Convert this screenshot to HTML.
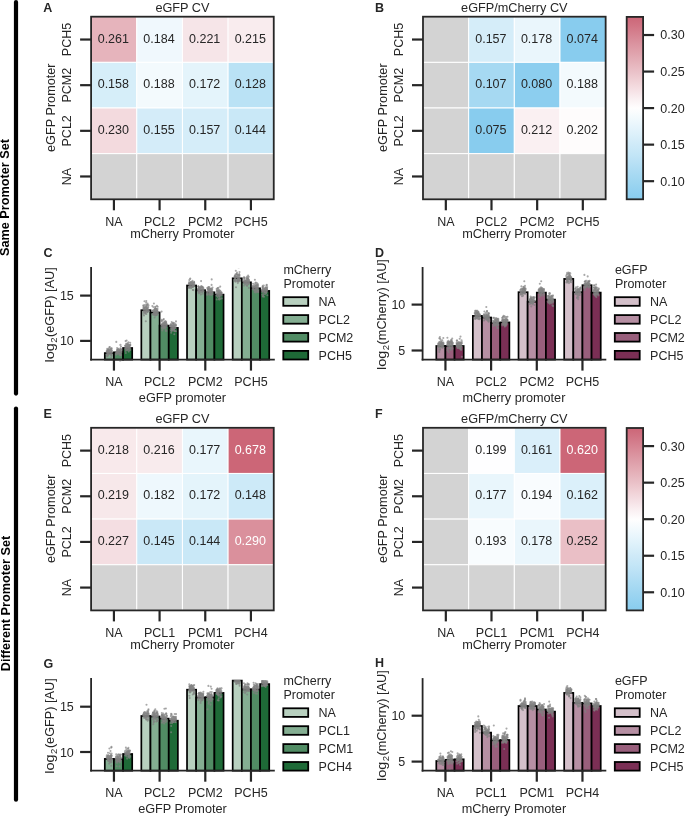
<!DOCTYPE html>
<html><head><meta charset="utf-8"><style>
html,body{margin:0;padding:0;background:#fff;}
body{width:685px;height:816px;overflow:hidden;}
svg{display:block;font-family:"Liberation Sans", sans-serif;will-change:transform;}
</style></head><body>
<svg width="685" height="816" viewBox="0 0 685 816">
<rect x="0" y="0" width="685" height="816" fill="#ffffff"/>
<line x1="16.00" y1="2.10" x2="16.00" y2="393.60" stroke="#000" stroke-width="4.2" stroke-linecap="round"/>
<line x1="16.00" y1="408.60" x2="16.00" y2="799.70" stroke="#000" stroke-width="4.2" stroke-linecap="round"/>
<text x="9.20" y="197.50" text-anchor="middle" font-size="12.7" font-weight="bold" fill="#000" transform="rotate(-90 9.20 197.50)">Same Promoter Set</text>
<text x="9.60" y="603.50" text-anchor="middle" font-size="12.7" font-weight="bold" fill="#000" transform="rotate(-90 9.60 603.50)">Different Promoter Set</text>
<text x="43.30" y="11.80" text-anchor="start" font-size="12.5" font-weight="bold" fill="#262626">A</text>
<text x="375.00" y="11.90" text-anchor="start" font-size="12.5" font-weight="bold" fill="#262626">B</text>
<text x="43.60" y="256.90" text-anchor="start" font-size="12.5" font-weight="bold" fill="#262626">C</text>
<text x="375.00" y="256.50" text-anchor="start" font-size="12.5" font-weight="bold" fill="#262626">D</text>
<text x="43.60" y="418.20" text-anchor="start" font-size="12.5" font-weight="bold" fill="#262626">E</text>
<text x="375.00" y="418.20" text-anchor="start" font-size="12.5" font-weight="bold" fill="#262626">F</text>
<text x="43.60" y="667.70" text-anchor="start" font-size="12.5" font-weight="bold" fill="#262626">G</text>
<text x="375.00" y="667.40" text-anchor="start" font-size="12.5" font-weight="bold" fill="#262626">H</text>
<rect x="91.10" y="16.70" width="182.65" height="182.60" fill="#d3d3d3"/>
<rect x="91.10" y="16.70" width="45.66" height="45.65" fill="#e6b4bc" stroke="#ffffff" stroke-width="1"/>
<rect x="136.76" y="16.70" width="45.66" height="45.65" fill="#f0f8fd" stroke="#ffffff" stroke-width="1"/>
<rect x="182.43" y="16.70" width="45.66" height="45.65" fill="#f6e5e8" stroke="#ffffff" stroke-width="1"/>
<rect x="228.09" y="16.70" width="45.66" height="45.65" fill="#f9ecee" stroke="#ffffff" stroke-width="1"/>
<rect x="91.10" y="62.35" width="45.66" height="45.65" fill="#d6eef9" stroke="#ffffff" stroke-width="1"/>
<rect x="136.76" y="62.35" width="45.66" height="45.65" fill="#f3fafd" stroke="#ffffff" stroke-width="1"/>
<rect x="182.43" y="62.35" width="45.66" height="45.65" fill="#e4f4fb" stroke="#ffffff" stroke-width="1"/>
<rect x="228.09" y="62.35" width="45.66" height="45.65" fill="#bae2f5" stroke="#ffffff" stroke-width="1"/>
<rect x="91.10" y="108.00" width="45.66" height="45.65" fill="#f3dade" stroke="#ffffff" stroke-width="1"/>
<rect x="136.76" y="108.00" width="45.66" height="45.65" fill="#d4ecf9" stroke="#ffffff" stroke-width="1"/>
<rect x="182.43" y="108.00" width="45.66" height="45.65" fill="#d5edf9" stroke="#ffffff" stroke-width="1"/>
<rect x="228.09" y="108.00" width="45.66" height="45.65" fill="#c9e8f7" stroke="#ffffff" stroke-width="1"/>
<rect x="91.10" y="153.65" width="45.66" height="45.65" fill="#d3d3d3" stroke="#ffffff" stroke-width="1"/>
<rect x="136.76" y="153.65" width="45.66" height="45.65" fill="#d3d3d3" stroke="#ffffff" stroke-width="1"/>
<rect x="182.43" y="153.65" width="45.66" height="45.65" fill="#d3d3d3" stroke="#ffffff" stroke-width="1"/>
<rect x="228.09" y="153.65" width="45.66" height="45.65" fill="#d3d3d3" stroke="#ffffff" stroke-width="1"/>
<text x="113.33" y="42.63" text-anchor="middle" font-size="12.5" fill="#262626">0.261</text>
<text x="158.99" y="42.63" text-anchor="middle" font-size="12.5" fill="#262626">0.184</text>
<text x="204.66" y="42.63" text-anchor="middle" font-size="12.5" fill="#262626">0.221</text>
<text x="250.32" y="42.63" text-anchor="middle" font-size="12.5" fill="#262626">0.215</text>
<text x="113.33" y="88.28" text-anchor="middle" font-size="12.5" fill="#262626">0.158</text>
<text x="158.99" y="88.28" text-anchor="middle" font-size="12.5" fill="#262626">0.188</text>
<text x="204.66" y="88.28" text-anchor="middle" font-size="12.5" fill="#262626">0.172</text>
<text x="250.32" y="88.28" text-anchor="middle" font-size="12.5" fill="#262626">0.128</text>
<text x="113.33" y="133.93" text-anchor="middle" font-size="12.5" fill="#262626">0.230</text>
<text x="158.99" y="133.93" text-anchor="middle" font-size="12.5" fill="#262626">0.155</text>
<text x="204.66" y="133.93" text-anchor="middle" font-size="12.5" fill="#262626">0.157</text>
<text x="250.32" y="133.93" text-anchor="middle" font-size="12.5" fill="#262626">0.144</text>
<rect x="91.10" y="16.70" width="182.65" height="182.60" fill="none" stroke="#262626" stroke-width="1.8"/>
<line x1="113.93" y1="199.30" x2="113.93" y2="210.30" stroke="#262626" stroke-width="2.2" stroke-linecap="butt"/>
<text x="113.93" y="225.80" text-anchor="middle" font-size="12.5" fill="#262626">NA</text>
<line x1="159.59" y1="199.30" x2="159.59" y2="210.30" stroke="#262626" stroke-width="2.2" stroke-linecap="butt"/>
<text x="159.59" y="225.80" text-anchor="middle" font-size="12.5" fill="#262626">PCL2</text>
<line x1="205.26" y1="199.30" x2="205.26" y2="210.30" stroke="#262626" stroke-width="2.2" stroke-linecap="butt"/>
<text x="205.26" y="225.80" text-anchor="middle" font-size="12.5" fill="#262626">PCM2</text>
<line x1="250.92" y1="199.30" x2="250.92" y2="210.30" stroke="#262626" stroke-width="2.2" stroke-linecap="butt"/>
<text x="250.92" y="225.80" text-anchor="middle" font-size="12.5" fill="#262626">PCH5</text>
<line x1="80.10" y1="39.53" x2="91.10" y2="39.53" stroke="#262626" stroke-width="2.2" stroke-linecap="butt"/>
<text x="71.40" y="39.53" text-anchor="middle" font-size="12.5" fill="#262626" transform="rotate(-90 71.40 39.53)">PCH5</text>
<line x1="80.10" y1="85.18" x2="91.10" y2="85.18" stroke="#262626" stroke-width="2.2" stroke-linecap="butt"/>
<text x="71.40" y="85.18" text-anchor="middle" font-size="12.5" fill="#262626" transform="rotate(-90 71.40 85.18)">PCM2</text>
<line x1="80.10" y1="130.83" x2="91.10" y2="130.83" stroke="#262626" stroke-width="2.2" stroke-linecap="butt"/>
<text x="71.40" y="130.83" text-anchor="middle" font-size="12.5" fill="#262626" transform="rotate(-90 71.40 130.83)">PCL2</text>
<line x1="80.10" y1="176.48" x2="91.10" y2="176.48" stroke="#262626" stroke-width="2.2" stroke-linecap="butt"/>
<text x="71.40" y="176.48" text-anchor="middle" font-size="12.5" fill="#262626" transform="rotate(-90 71.40 176.48)">NA</text>
<text x="182.43" y="237.50" text-anchor="middle" font-size="12.7" fill="#262626">mCherry Promoter</text>
<text x="55.00" y="107.70" text-anchor="middle" font-size="12.7" fill="#262626" transform="rotate(-90 55.00 107.70)">eGFP Promoter</text>
<text x="182.43" y="11.80" text-anchor="middle" font-size="12.7" fill="#262626">eGFP CV</text>
<rect x="423.00" y="16.70" width="182.65" height="182.60" fill="#d3d3d3"/>
<rect x="423.00" y="16.70" width="45.66" height="45.65" fill="#d3d3d3" stroke="#ffffff" stroke-width="1"/>
<rect x="468.66" y="16.70" width="45.66" height="45.65" fill="#d5edf9" stroke="#ffffff" stroke-width="1"/>
<rect x="514.33" y="16.70" width="45.66" height="45.65" fill="#eaf6fc" stroke="#ffffff" stroke-width="1"/>
<rect x="559.99" y="16.70" width="45.66" height="45.65" fill="#88ccee" stroke="#ffffff" stroke-width="1"/>
<rect x="423.00" y="62.35" width="45.66" height="45.65" fill="#d3d3d3" stroke="#ffffff" stroke-width="1"/>
<rect x="468.66" y="62.35" width="45.66" height="45.65" fill="#a6d9f2" stroke="#ffffff" stroke-width="1"/>
<rect x="514.33" y="62.35" width="45.66" height="45.65" fill="#8cceef" stroke="#ffffff" stroke-width="1"/>
<rect x="559.99" y="62.35" width="45.66" height="45.65" fill="#f3fafd" stroke="#ffffff" stroke-width="1"/>
<rect x="423.00" y="108.00" width="45.66" height="45.65" fill="#d3d3d3" stroke="#ffffff" stroke-width="1"/>
<rect x="468.66" y="108.00" width="45.66" height="45.65" fill="#88ccee" stroke="#ffffff" stroke-width="1"/>
<rect x="514.33" y="108.00" width="45.66" height="45.65" fill="#faf0f2" stroke="#ffffff" stroke-width="1"/>
<rect x="559.99" y="108.00" width="45.66" height="45.65" fill="#fefcfc" stroke="#ffffff" stroke-width="1"/>
<rect x="423.00" y="153.65" width="45.66" height="45.65" fill="#d3d3d3" stroke="#ffffff" stroke-width="1"/>
<rect x="468.66" y="153.65" width="45.66" height="45.65" fill="#d3d3d3" stroke="#ffffff" stroke-width="1"/>
<rect x="514.33" y="153.65" width="45.66" height="45.65" fill="#d3d3d3" stroke="#ffffff" stroke-width="1"/>
<rect x="559.99" y="153.65" width="45.66" height="45.65" fill="#d3d3d3" stroke="#ffffff" stroke-width="1"/>
<text x="490.89" y="42.63" text-anchor="middle" font-size="12.5" fill="#262626">0.157</text>
<text x="536.56" y="42.63" text-anchor="middle" font-size="12.5" fill="#262626">0.178</text>
<text x="582.22" y="42.63" text-anchor="middle" font-size="12.5" fill="#262626">0.074</text>
<text x="490.89" y="88.28" text-anchor="middle" font-size="12.5" fill="#262626">0.107</text>
<text x="536.56" y="88.28" text-anchor="middle" font-size="12.5" fill="#262626">0.080</text>
<text x="582.22" y="88.28" text-anchor="middle" font-size="12.5" fill="#262626">0.188</text>
<text x="490.89" y="133.93" text-anchor="middle" font-size="12.5" fill="#262626">0.075</text>
<text x="536.56" y="133.93" text-anchor="middle" font-size="12.5" fill="#262626">0.212</text>
<text x="582.22" y="133.93" text-anchor="middle" font-size="12.5" fill="#262626">0.202</text>
<rect x="423.00" y="16.70" width="182.65" height="182.60" fill="none" stroke="#262626" stroke-width="1.8"/>
<line x1="445.83" y1="199.30" x2="445.83" y2="210.30" stroke="#262626" stroke-width="2.2" stroke-linecap="butt"/>
<text x="445.83" y="225.80" text-anchor="middle" font-size="12.5" fill="#262626">NA</text>
<line x1="491.49" y1="199.30" x2="491.49" y2="210.30" stroke="#262626" stroke-width="2.2" stroke-linecap="butt"/>
<text x="491.49" y="225.80" text-anchor="middle" font-size="12.5" fill="#262626">PCL2</text>
<line x1="537.16" y1="199.30" x2="537.16" y2="210.30" stroke="#262626" stroke-width="2.2" stroke-linecap="butt"/>
<text x="537.16" y="225.80" text-anchor="middle" font-size="12.5" fill="#262626">PCM2</text>
<line x1="582.82" y1="199.30" x2="582.82" y2="210.30" stroke="#262626" stroke-width="2.2" stroke-linecap="butt"/>
<text x="582.82" y="225.80" text-anchor="middle" font-size="12.5" fill="#262626">PCH5</text>
<line x1="412.00" y1="39.53" x2="423.00" y2="39.53" stroke="#262626" stroke-width="2.2" stroke-linecap="butt"/>
<text x="403.30" y="39.53" text-anchor="middle" font-size="12.5" fill="#262626" transform="rotate(-90 403.30 39.53)">PCH5</text>
<line x1="412.00" y1="85.18" x2="423.00" y2="85.18" stroke="#262626" stroke-width="2.2" stroke-linecap="butt"/>
<text x="403.30" y="85.18" text-anchor="middle" font-size="12.5" fill="#262626" transform="rotate(-90 403.30 85.18)">PCM2</text>
<line x1="412.00" y1="130.83" x2="423.00" y2="130.83" stroke="#262626" stroke-width="2.2" stroke-linecap="butt"/>
<text x="403.30" y="130.83" text-anchor="middle" font-size="12.5" fill="#262626" transform="rotate(-90 403.30 130.83)">PCL2</text>
<line x1="412.00" y1="176.48" x2="423.00" y2="176.48" stroke="#262626" stroke-width="2.2" stroke-linecap="butt"/>
<text x="403.30" y="176.48" text-anchor="middle" font-size="12.5" fill="#262626" transform="rotate(-90 403.30 176.48)">NA</text>
<text x="514.33" y="237.50" text-anchor="middle" font-size="12.7" fill="#262626">mCherry Promoter</text>
<text x="386.90" y="107.70" text-anchor="middle" font-size="12.7" fill="#262626" transform="rotate(-90 386.90 107.70)">eGFP Promoter</text>
<text x="514.33" y="11.80" text-anchor="middle" font-size="12.7" fill="#262626">eGFP/mCherry CV</text>
<defs><linearGradient id="cb0" x1="0" y1="0" x2="0" y2="1"><stop offset="0.000" stop-color="#cc6677"/><stop offset="0.050" stop-color="#d17484"/><stop offset="0.100" stop-color="#d68492"/><stop offset="0.150" stop-color="#db94a0"/><stop offset="0.200" stop-color="#e0a3ad"/><stop offset="0.250" stop-color="#e5b2ba"/><stop offset="0.300" stop-color="#eac1c8"/><stop offset="0.350" stop-color="#f0d1d6"/><stop offset="0.400" stop-color="#f5e0e4"/><stop offset="0.450" stop-color="#faf0f2"/><stop offset="0.500" stop-color="#fffefe"/><stop offset="0.550" stop-color="#f3fafd"/><stop offset="0.600" stop-color="#e7f5fc"/><stop offset="0.650" stop-color="#dbf0fa"/><stop offset="0.700" stop-color="#cfeaf8"/><stop offset="0.750" stop-color="#c4e6f7"/><stop offset="0.800" stop-color="#b8e0f5"/><stop offset="0.850" stop-color="#abdbf3"/><stop offset="0.900" stop-color="#9fd6f1"/><stop offset="0.950" stop-color="#93d1f0"/><stop offset="1.000" stop-color="#88ccee"/></linearGradient></defs>
<rect x="626.70" y="16.90" width="16.40" height="182.40" fill="url(#cb0)" stroke="#262626" stroke-width="1.8"/>
<line x1="643.10" y1="181.18" x2="654.10" y2="181.18" stroke="#262626" stroke-width="2.2" stroke-linecap="butt"/>
<text x="660.30" y="185.58" text-anchor="start" font-size="12.5" fill="#262626">0.10</text>
<line x1="643.10" y1="144.64" x2="654.10" y2="144.64" stroke="#262626" stroke-width="2.2" stroke-linecap="butt"/>
<text x="660.30" y="149.04" text-anchor="start" font-size="12.5" fill="#262626">0.15</text>
<line x1="643.10" y1="108.10" x2="654.10" y2="108.10" stroke="#262626" stroke-width="2.2" stroke-linecap="butt"/>
<text x="660.30" y="112.50" text-anchor="start" font-size="12.5" fill="#262626">0.20</text>
<line x1="643.10" y1="71.56" x2="654.10" y2="71.56" stroke="#262626" stroke-width="2.2" stroke-linecap="butt"/>
<text x="660.30" y="75.96" text-anchor="start" font-size="12.5" fill="#262626">0.25</text>
<line x1="643.10" y1="35.02" x2="654.10" y2="35.02" stroke="#262626" stroke-width="2.2" stroke-linecap="butt"/>
<text x="660.30" y="39.42" text-anchor="start" font-size="12.5" fill="#262626">0.30</text>
<rect x="91.10" y="427.80" width="182.65" height="182.60" fill="#d3d3d3"/>
<rect x="91.10" y="427.80" width="45.66" height="45.65" fill="#f8e9eb" stroke="#ffffff" stroke-width="1"/>
<rect x="136.76" y="427.80" width="45.66" height="45.65" fill="#f8ebed" stroke="#ffffff" stroke-width="1"/>
<rect x="182.43" y="427.80" width="45.66" height="45.65" fill="#e9f6fc" stroke="#ffffff" stroke-width="1"/>
<rect x="228.09" y="427.80" width="45.66" height="45.65" fill="#cc6677" stroke="#ffffff" stroke-width="1"/>
<rect x="91.10" y="473.45" width="45.66" height="45.65" fill="#f7e8ea" stroke="#ffffff" stroke-width="1"/>
<rect x="136.76" y="473.45" width="45.66" height="45.65" fill="#eef8fd" stroke="#ffffff" stroke-width="1"/>
<rect x="182.43" y="473.45" width="45.66" height="45.65" fill="#e4f4fb" stroke="#ffffff" stroke-width="1"/>
<rect x="228.09" y="473.45" width="45.66" height="45.65" fill="#cdeaf8" stroke="#ffffff" stroke-width="1"/>
<rect x="91.10" y="519.10" width="45.66" height="45.65" fill="#f4dee2" stroke="#ffffff" stroke-width="1"/>
<rect x="136.76" y="519.10" width="45.66" height="45.65" fill="#cae8f7" stroke="#ffffff" stroke-width="1"/>
<rect x="182.43" y="519.10" width="45.66" height="45.65" fill="#c9e8f7" stroke="#ffffff" stroke-width="1"/>
<rect x="228.09" y="519.10" width="45.66" height="45.65" fill="#da909c" stroke="#ffffff" stroke-width="1"/>
<rect x="91.10" y="564.75" width="45.66" height="45.65" fill="#d3d3d3" stroke="#ffffff" stroke-width="1"/>
<rect x="136.76" y="564.75" width="45.66" height="45.65" fill="#d3d3d3" stroke="#ffffff" stroke-width="1"/>
<rect x="182.43" y="564.75" width="45.66" height="45.65" fill="#d3d3d3" stroke="#ffffff" stroke-width="1"/>
<rect x="228.09" y="564.75" width="45.66" height="45.65" fill="#d3d3d3" stroke="#ffffff" stroke-width="1"/>
<text x="113.33" y="453.73" text-anchor="middle" font-size="12.5" fill="#262626">0.218</text>
<text x="158.99" y="453.73" text-anchor="middle" font-size="12.5" fill="#262626">0.216</text>
<text x="204.66" y="453.73" text-anchor="middle" font-size="12.5" fill="#262626">0.177</text>
<text x="250.32" y="453.73" text-anchor="middle" font-size="12.5" fill="#ffffff">0.678</text>
<text x="113.33" y="499.38" text-anchor="middle" font-size="12.5" fill="#262626">0.219</text>
<text x="158.99" y="499.38" text-anchor="middle" font-size="12.5" fill="#262626">0.182</text>
<text x="204.66" y="499.38" text-anchor="middle" font-size="12.5" fill="#262626">0.172</text>
<text x="250.32" y="499.38" text-anchor="middle" font-size="12.5" fill="#262626">0.148</text>
<text x="113.33" y="545.03" text-anchor="middle" font-size="12.5" fill="#262626">0.227</text>
<text x="158.99" y="545.03" text-anchor="middle" font-size="12.5" fill="#262626">0.145</text>
<text x="204.66" y="545.03" text-anchor="middle" font-size="12.5" fill="#262626">0.144</text>
<text x="250.32" y="545.03" text-anchor="middle" font-size="12.5" fill="#ffffff">0.290</text>
<rect x="91.10" y="427.80" width="182.65" height="182.60" fill="none" stroke="#262626" stroke-width="1.8"/>
<line x1="113.93" y1="610.40" x2="113.93" y2="621.40" stroke="#262626" stroke-width="2.2" stroke-linecap="butt"/>
<text x="113.93" y="636.90" text-anchor="middle" font-size="12.5" fill="#262626">NA</text>
<line x1="159.59" y1="610.40" x2="159.59" y2="621.40" stroke="#262626" stroke-width="2.2" stroke-linecap="butt"/>
<text x="159.59" y="636.90" text-anchor="middle" font-size="12.5" fill="#262626">PCL1</text>
<line x1="205.26" y1="610.40" x2="205.26" y2="621.40" stroke="#262626" stroke-width="2.2" stroke-linecap="butt"/>
<text x="205.26" y="636.90" text-anchor="middle" font-size="12.5" fill="#262626">PCM1</text>
<line x1="250.92" y1="610.40" x2="250.92" y2="621.40" stroke="#262626" stroke-width="2.2" stroke-linecap="butt"/>
<text x="250.92" y="636.90" text-anchor="middle" font-size="12.5" fill="#262626">PCH4</text>
<line x1="80.10" y1="450.62" x2="91.10" y2="450.62" stroke="#262626" stroke-width="2.2" stroke-linecap="butt"/>
<text x="71.40" y="450.62" text-anchor="middle" font-size="12.5" fill="#262626" transform="rotate(-90 71.40 450.62)">PCH5</text>
<line x1="80.10" y1="496.28" x2="91.10" y2="496.28" stroke="#262626" stroke-width="2.2" stroke-linecap="butt"/>
<text x="71.40" y="496.28" text-anchor="middle" font-size="12.5" fill="#262626" transform="rotate(-90 71.40 496.28)">PCM2</text>
<line x1="80.10" y1="541.93" x2="91.10" y2="541.93" stroke="#262626" stroke-width="2.2" stroke-linecap="butt"/>
<text x="71.40" y="541.93" text-anchor="middle" font-size="12.5" fill="#262626" transform="rotate(-90 71.40 541.93)">PCL2</text>
<line x1="80.10" y1="587.58" x2="91.10" y2="587.58" stroke="#262626" stroke-width="2.2" stroke-linecap="butt"/>
<text x="71.40" y="587.58" text-anchor="middle" font-size="12.5" fill="#262626" transform="rotate(-90 71.40 587.58)">NA</text>
<text x="182.43" y="648.60" text-anchor="middle" font-size="12.7" fill="#262626">mCherry Promoter</text>
<text x="55.00" y="518.80" text-anchor="middle" font-size="12.7" fill="#262626" transform="rotate(-90 55.00 518.80)">eGFP Promoter</text>
<text x="182.43" y="422.90" text-anchor="middle" font-size="12.7" fill="#262626">eGFP CV</text>
<rect x="423.00" y="427.80" width="182.65" height="182.60" fill="#d3d3d3"/>
<rect x="423.00" y="427.80" width="45.66" height="45.65" fill="#d3d3d3" stroke="#ffffff" stroke-width="1"/>
<rect x="468.66" y="427.80" width="45.66" height="45.65" fill="#fefeff" stroke="#ffffff" stroke-width="1"/>
<rect x="514.33" y="427.80" width="45.66" height="45.65" fill="#daeffa" stroke="#ffffff" stroke-width="1"/>
<rect x="559.99" y="427.80" width="45.66" height="45.65" fill="#cc6677" stroke="#ffffff" stroke-width="1"/>
<rect x="423.00" y="473.45" width="45.66" height="45.65" fill="#d3d3d3" stroke="#ffffff" stroke-width="1"/>
<rect x="468.66" y="473.45" width="45.66" height="45.65" fill="#e9f6fc" stroke="#ffffff" stroke-width="1"/>
<rect x="514.33" y="473.45" width="45.66" height="45.65" fill="#f9fcfe" stroke="#ffffff" stroke-width="1"/>
<rect x="559.99" y="473.45" width="45.66" height="45.65" fill="#dbf0fa" stroke="#ffffff" stroke-width="1"/>
<rect x="423.00" y="519.10" width="45.66" height="45.65" fill="#d3d3d3" stroke="#ffffff" stroke-width="1"/>
<rect x="468.66" y="519.10" width="45.66" height="45.65" fill="#f8fcfe" stroke="#ffffff" stroke-width="1"/>
<rect x="514.33" y="519.10" width="45.66" height="45.65" fill="#eaf6fc" stroke="#ffffff" stroke-width="1"/>
<rect x="559.99" y="519.10" width="45.66" height="45.65" fill="#eabfc6" stroke="#ffffff" stroke-width="1"/>
<rect x="423.00" y="564.75" width="45.66" height="45.65" fill="#d3d3d3" stroke="#ffffff" stroke-width="1"/>
<rect x="468.66" y="564.75" width="45.66" height="45.65" fill="#d3d3d3" stroke="#ffffff" stroke-width="1"/>
<rect x="514.33" y="564.75" width="45.66" height="45.65" fill="#d3d3d3" stroke="#ffffff" stroke-width="1"/>
<rect x="559.99" y="564.75" width="45.66" height="45.65" fill="#d3d3d3" stroke="#ffffff" stroke-width="1"/>
<text x="490.89" y="453.73" text-anchor="middle" font-size="12.5" fill="#262626">0.199</text>
<text x="536.56" y="453.73" text-anchor="middle" font-size="12.5" fill="#262626">0.161</text>
<text x="582.22" y="453.73" text-anchor="middle" font-size="12.5" fill="#ffffff">0.620</text>
<text x="490.89" y="499.38" text-anchor="middle" font-size="12.5" fill="#262626">0.177</text>
<text x="536.56" y="499.38" text-anchor="middle" font-size="12.5" fill="#262626">0.194</text>
<text x="582.22" y="499.38" text-anchor="middle" font-size="12.5" fill="#262626">0.162</text>
<text x="490.89" y="545.03" text-anchor="middle" font-size="12.5" fill="#262626">0.193</text>
<text x="536.56" y="545.03" text-anchor="middle" font-size="12.5" fill="#262626">0.178</text>
<text x="582.22" y="545.03" text-anchor="middle" font-size="12.5" fill="#262626">0.252</text>
<rect x="423.00" y="427.80" width="182.65" height="182.60" fill="none" stroke="#262626" stroke-width="1.8"/>
<line x1="445.83" y1="610.40" x2="445.83" y2="621.40" stroke="#262626" stroke-width="2.2" stroke-linecap="butt"/>
<text x="445.83" y="636.90" text-anchor="middle" font-size="12.5" fill="#262626">NA</text>
<line x1="491.49" y1="610.40" x2="491.49" y2="621.40" stroke="#262626" stroke-width="2.2" stroke-linecap="butt"/>
<text x="491.49" y="636.90" text-anchor="middle" font-size="12.5" fill="#262626">PCL1</text>
<line x1="537.16" y1="610.40" x2="537.16" y2="621.40" stroke="#262626" stroke-width="2.2" stroke-linecap="butt"/>
<text x="537.16" y="636.90" text-anchor="middle" font-size="12.5" fill="#262626">PCM1</text>
<line x1="582.82" y1="610.40" x2="582.82" y2="621.40" stroke="#262626" stroke-width="2.2" stroke-linecap="butt"/>
<text x="582.82" y="636.90" text-anchor="middle" font-size="12.5" fill="#262626">PCH4</text>
<line x1="412.00" y1="450.62" x2="423.00" y2="450.62" stroke="#262626" stroke-width="2.2" stroke-linecap="butt"/>
<text x="403.30" y="450.62" text-anchor="middle" font-size="12.5" fill="#262626" transform="rotate(-90 403.30 450.62)">PCH5</text>
<line x1="412.00" y1="496.28" x2="423.00" y2="496.28" stroke="#262626" stroke-width="2.2" stroke-linecap="butt"/>
<text x="403.30" y="496.28" text-anchor="middle" font-size="12.5" fill="#262626" transform="rotate(-90 403.30 496.28)">PCM2</text>
<line x1="412.00" y1="541.93" x2="423.00" y2="541.93" stroke="#262626" stroke-width="2.2" stroke-linecap="butt"/>
<text x="403.30" y="541.93" text-anchor="middle" font-size="12.5" fill="#262626" transform="rotate(-90 403.30 541.93)">PCL2</text>
<line x1="412.00" y1="587.58" x2="423.00" y2="587.58" stroke="#262626" stroke-width="2.2" stroke-linecap="butt"/>
<text x="403.30" y="587.58" text-anchor="middle" font-size="12.5" fill="#262626" transform="rotate(-90 403.30 587.58)">NA</text>
<text x="514.33" y="648.60" text-anchor="middle" font-size="12.7" fill="#262626">mCherry Promoter</text>
<text x="386.90" y="518.80" text-anchor="middle" font-size="12.7" fill="#262626" transform="rotate(-90 386.90 518.80)">eGFP Promoter</text>
<text x="514.33" y="422.90" text-anchor="middle" font-size="12.7" fill="#262626">eGFP/mCherry CV</text>
<defs><linearGradient id="cb411" x1="0" y1="0" x2="0" y2="1"><stop offset="0.000" stop-color="#cc6677"/><stop offset="0.050" stop-color="#d17484"/><stop offset="0.100" stop-color="#d68492"/><stop offset="0.150" stop-color="#db94a0"/><stop offset="0.200" stop-color="#e0a3ad"/><stop offset="0.250" stop-color="#e5b2ba"/><stop offset="0.300" stop-color="#eac1c8"/><stop offset="0.350" stop-color="#f0d1d6"/><stop offset="0.400" stop-color="#f5e0e4"/><stop offset="0.450" stop-color="#faf0f2"/><stop offset="0.500" stop-color="#fffefe"/><stop offset="0.550" stop-color="#f3fafd"/><stop offset="0.600" stop-color="#e7f5fc"/><stop offset="0.650" stop-color="#dbf0fa"/><stop offset="0.700" stop-color="#cfeaf8"/><stop offset="0.750" stop-color="#c4e6f7"/><stop offset="0.800" stop-color="#b8e0f5"/><stop offset="0.850" stop-color="#abdbf3"/><stop offset="0.900" stop-color="#9fd6f1"/><stop offset="0.950" stop-color="#93d1f0"/><stop offset="1.000" stop-color="#88ccee"/></linearGradient></defs>
<rect x="626.70" y="428.00" width="16.40" height="182.40" fill="url(#cb411)" stroke="#262626" stroke-width="1.8"/>
<line x1="643.10" y1="592.28" x2="654.10" y2="592.28" stroke="#262626" stroke-width="2.2" stroke-linecap="butt"/>
<text x="660.30" y="596.68" text-anchor="start" font-size="12.5" fill="#262626">0.10</text>
<line x1="643.10" y1="555.74" x2="654.10" y2="555.74" stroke="#262626" stroke-width="2.2" stroke-linecap="butt"/>
<text x="660.30" y="560.14" text-anchor="start" font-size="12.5" fill="#262626">0.15</text>
<line x1="643.10" y1="519.20" x2="654.10" y2="519.20" stroke="#262626" stroke-width="2.2" stroke-linecap="butt"/>
<text x="660.30" y="523.60" text-anchor="start" font-size="12.5" fill="#262626">0.20</text>
<line x1="643.10" y1="482.66" x2="654.10" y2="482.66" stroke="#262626" stroke-width="2.2" stroke-linecap="butt"/>
<text x="660.30" y="487.06" text-anchor="start" font-size="12.5" fill="#262626">0.25</text>
<line x1="643.10" y1="446.12" x2="654.10" y2="446.12" stroke="#262626" stroke-width="2.2" stroke-linecap="butt"/>
<text x="660.30" y="450.52" text-anchor="start" font-size="12.5" fill="#262626">0.30</text>
<rect x="104.80" y="353.10" width="9.13" height="6.50" fill="#84ae92" stroke="#000" stroke-width="1.7"/>
<rect x="113.94" y="352.30" width="9.13" height="7.30" fill="#518c64" stroke="#000" stroke-width="1.7"/>
<rect x="123.07" y="348.00" width="9.13" height="11.60" fill="#1e6a37" stroke="#000" stroke-width="1.7"/>
<rect x="141.34" y="310.20" width="9.13" height="49.40" fill="#b8d0bf" stroke="#000" stroke-width="1.7"/>
<rect x="150.48" y="312.50" width="9.13" height="47.10" fill="#84ae92" stroke="#000" stroke-width="1.7"/>
<rect x="159.61" y="325.60" width="9.13" height="34.00" fill="#518c64" stroke="#000" stroke-width="1.7"/>
<rect x="168.75" y="327.90" width="9.13" height="31.70" fill="#1e6a37" stroke="#000" stroke-width="1.7"/>
<rect x="187.02" y="285.50" width="9.13" height="74.10" fill="#b8d0bf" stroke="#000" stroke-width="1.7"/>
<rect x="196.15" y="290.20" width="9.13" height="69.40" fill="#84ae92" stroke="#000" stroke-width="1.7"/>
<rect x="205.29" y="292.30" width="9.13" height="67.30" fill="#518c64" stroke="#000" stroke-width="1.7"/>
<rect x="214.42" y="294.60" width="9.13" height="65.00" fill="#1e6a37" stroke="#000" stroke-width="1.7"/>
<rect x="232.69" y="278.30" width="9.13" height="81.30" fill="#b8d0bf" stroke="#000" stroke-width="1.7"/>
<rect x="241.83" y="282.30" width="9.13" height="77.30" fill="#84ae92" stroke="#000" stroke-width="1.7"/>
<rect x="250.96" y="288.30" width="9.13" height="71.30" fill="#518c64" stroke="#000" stroke-width="1.7"/>
<rect x="260.10" y="290.90" width="9.13" height="68.70" fill="#1e6a37" stroke="#000" stroke-width="1.7"/>
<defs><clipPath id="clip1"><rect x="91.10" y="268.80" width="183.70" height="92.60"/></clipPath></defs>
<g clip-path="url(#clip1)">
<path d="M246.5 280.8h0M120.3 352.5h0M107.5 354.9h0M266.2 293.1h0M255.8 287.5h0M192.1 284.7h0M262.7 287.5h0M262.7 289.1h0M145.0 311.7h0M190.1 283.0h0M236.0 287.3h0M162.8 328.6h0M257.9 291.9h0M125.5 345.2h0M247.5 279.6h0M117.6 353.3h0M120.3 355.1h0M209.5 287.2h0M262.3 294.7h0M171.2 324.1h0M165.8 330.0h0M219.9 293.1h0M108.0 349.8h0M256.6 289.2h0M256.8 283.4h0M145.4 308.4h0M193.3 290.1h0M221.2 292.5h0M202.6 291.6h0M161.8 324.9h0M219.3 292.8h0M188.9 283.6h0M126.9 349.7h0M127.1 343.9h0M217.7 291.5h0M106.9 355.0h0M143.5 305.8h0M256.1 288.7h0M237.9 278.1h0M153.1 313.8h0M157.6 312.5h0M121.2 352.2h0M147.8 309.0h0M166.3 324.0h0M191.4 282.6h0M145.6 306.5h0M264.3 292.0h0M157.6 312.1h0M210.2 294.7h0M108.5 351.8h0M265.3 290.4h0M237.4 277.0h0M173.7 328.8h0M244.6 280.3h0M145.0 312.0h0M146.0 309.5h0M176.0 331.3h0M211.7 279.4h0M171.1 326.1h0M127.8 343.4h0M263.1 296.1h0M116.4 352.9h0M219.0 293.8h0M211.6 284.9h0M257.8 290.3h0M256.1 287.3h0M173.6 328.7h0M153.4 307.0h0M126.3 348.4h0M164.4 324.1h0M157.2 309.0h0M117.4 352.7h0M200.4 289.0h0M118.9 351.3h0M199.1 290.3h0M234.6 276.8h0M209.5 294.6h0M201.5 287.6h0M244.6 277.6h0M119.5 353.1h0M266.6 287.9h0M173.1 328.9h0M152.8 314.4h0M236.3 280.6h0M210.2 290.0h0M235.3 276.5h0M221.1 294.5h0M247.6 279.1h0M239.2 274.3h0M211.7 294.8h0M253.6 289.7h0M192.9 285.2h0M220.7 293.0h0M257.7 284.1h0M248.1 279.2h0M154.8 309.7h0M192.2 283.0h0M120.6 352.2h0M267.0 289.4h0M157.2 314.2h0M237.3 276.4h0M109.8 347.0h0M209.5 288.3h0M199.3 291.5h0M155.3 311.3h0M157.8 314.2h0M118.0 351.3h0M111.1 350.0h0M173.0 323.7h0M121.2 349.3h0M117.2 353.9h0M148.6 310.5h0M262.0 290.7h0M188.9 287.3h0M192.7 286.6h0M219.6 297.4h0M202.7 289.8h0M126.1 348.5h0M154.8 311.7h0M220.6 293.7h0M221.6 292.6h0M109.3 350.4h0M264.0 296.8h0M111.3 349.4h0M218.2 294.7h0M209.2 288.8h0M266.2 293.0h0M262.0 289.6h0M211.2 289.6h0M237.8 275.4h0M217.5 288.6h0M235.4 277.7h0M243.9 281.7h0M118.6 351.6h0M165.2 322.7h0M266.7 290.4h0M212.5 292.5h0M152.4 306.1h0M216.9 290.9h0M266.5 288.9h0M144.1 311.3h0M156.9 311.0h0M257.2 283.3h0M153.8 314.8h0M246.9 281.7h0M111.8 352.5h0M157.6 309.1h0M116.0 354.3h0M253.1 286.6h0M208.1 288.9h0M248.7 279.9h0M218.4 292.1h0M107.9 352.6h0M146.3 308.8h0M221.6 294.8h0M128.3 347.9h0M193.5 285.3h0M266.3 289.8h0M239.2 275.4h0M117.5 349.9h0M267.3 295.2h0M170.9 325.2h0M262.3 291.9h0M107.8 353.6h0M264.6 289.0h0M198.3 289.7h0M192.6 286.0h0M110.3 353.2h0M207.6 292.5h0M175.8 328.0h0M210.2 289.4h0M210.7 290.8h0M190.6 285.0h0M194.1 281.9h0M116.3 341.9h0M234.5 280.0h0M263.5 290.3h0M189.4 285.6h0M165.8 326.3h0M207.4 291.9h0M221.2 293.0h0M216.8 299.4h0M202.3 287.9h0M163.5 326.8h0M239.9 281.1h0M198.8 292.5h0M174.2 329.9h0M129.5 345.5h0M120.1 349.7h0M147.6 303.6h0M199.0 287.6h0M127.3 347.0h0M147.2 311.9h0M237.6 280.4h0M144.9 305.0h0M126.2 350.0h0M172.9 325.2h0M107.7 355.9h0M207.4 293.5h0M155.4 308.8h0M201.5 289.5h0M236.9 279.7h0M190.0 285.1h0M192.2 283.6h0M235.9 279.9h0M162.9 325.8h0M265.6 287.9h0M163.3 328.4h0M120.7 350.4h0M111.0 358.0h0M244.9 281.2h0M245.7 281.2h0M118.9 352.8h0M171.0 325.6h0M190.4 285.4h0M237.4 276.7h0M171.3 324.2h0M210.7 292.3h0M243.9 282.6h0M156.9 305.9h0M236.6 274.1h0M111.4 350.6h0M198.9 288.3h0M190.3 278.5h0M155.0 314.4h0M166.4 323.9h0M162.3 328.6h0M192.1 284.3h0M253.1 289.3h0M146.3 314.0h0M147.5 309.2h0M106.9 351.2h0M254.2 286.5h0M252.9 286.1h0M211.6 290.3h0M262.4 292.5h0M156.0 315.2h0M146.9 310.4h0M220.7 294.9h0M157.2 314.5h0M249.0 283.4h0M128.8 346.6h0M248.8 284.1h0M171.1 328.8h0M127.0 350.1h0M164.4 326.8h0M107.9 349.8h0M265.6 287.3h0M172.9 328.5h0M109.4 353.7h0M143.5 311.8h0M192.0 281.9h0M209.3 290.6h0M120.8 351.5h0M125.6 341.1h0M163.4 325.4h0M107.6 351.1h0M173.0 329.4h0M118.5 352.8h0M248.8 281.9h0M129.5 346.8h0M111.2 352.4h0M245.9 281.2h0" stroke="#808080" stroke-opacity="0.68" stroke-width="2.1" stroke-linecap="round" fill="none"/>
<path d="M107.8 350.8h0M218.3 291.2h0M266.5 292.2h0M265.7 293.4h0M239.3 275.3h0M129.3 348.6h0M144.1 308.9h0M246.4 284.9h0M262.6 287.1h0M262.1 290.3h0M201.0 294.3h0M174.1 329.0h0M146.0 307.5h0M106.7 354.2h0M266.3 288.9h0M192.9 286.5h0M218.9 292.2h0M165.7 327.8h0M244.8 284.2h0M203.4 288.2h0M221.7 298.4h0M189.1 288.0h0M202.3 291.7h0M216.4 295.4h0M128.7 344.9h0M193.6 282.5h0M198.1 291.2h0M153.0 314.3h0M263.6 293.7h0M263.5 294.8h0M257.6 291.3h0M217.7 292.9h0M266.5 289.8h0M200.2 287.6h0M117.2 349.9h0M146.3 301.1h0M257.9 290.8h0M221.6 295.6h0M117.4 352.9h0M156.5 311.2h0M263.8 293.7h0M199.2 289.2h0M208.4 291.4h0M120.1 353.9h0M248.9 281.4h0M165.8 324.7h0M245.3 282.4h0M126.6 340.5h0M171.3 330.2h0M254.9 286.8h0M127.8 349.3h0M165.2 328.4h0M238.9 280.1h0M218.9 298.9h0M120.5 344.8h0M257.0 285.9h0M244.7 281.7h0M155.5 308.9h0M163.5 325.6h0M165.2 321.8h0M154.4 310.7h0M128.3 346.9h0M124.9 348.0h0M109.4 347.4h0M198.2 291.5h0M199.3 290.7h0M201.6 286.2h0M156.3 310.2h0M243.7 282.1h0M145.1 310.6h0M147.1 308.5h0M266.0 288.8h0M174.9 331.2h0M198.0 288.5h0M165.7 325.4h0M257.6 287.4h0M129.1 347.2h0M154.6 317.5h0M146.4 311.0h0M239.5 279.0h0M200.8 294.6h0M237.9 281.5h0M258.2 291.9h0M246.6 283.4h0M199.8 290.7h0M121.0 352.1h0M218.6 289.8h0M256.0 287.1h0M209.9 290.3h0M161.6 320.5h0M208.3 287.2h0M207.3 294.9h0M220.8 292.1h0M202.8 287.5h0M245.4 281.4h0M172.8 328.8h0M211.4 291.4h0M262.8 286.5h0M190.5 282.1h0M255.3 290.6h0M246.9 281.9h0M161.9 326.1h0M148.3 307.1h0M208.8 291.4h0M145.8 321.3h0M238.9 277.8h0M154.4 313.5h0M175.6 325.7h0M221.6 294.6h0M128.4 344.5h0M120.8 350.6h0M256.1 285.4h0M247.4 281.0h0M127.3 346.3h0M161.5 319.9h0M129.2 349.1h0M120.1 353.4h0M264.3 291.4h0M255.8 282.5h0M164.9 326.9h0M118.9 349.5h0M145.5 313.5h0M193.6 285.9h0M209.1 290.6h0M246.4 283.1h0M208.1 288.3h0M220.1 295.8h0M235.7 276.7h0M162.0 326.3h0M212.5 294.3h0M147.8 309.5h0M118.1 350.0h0M154.3 309.9h0M126.4 347.0h0M130.2 345.2h0M198.4 288.5h0M235.7 275.5h0M120.3 345.0h0M146.6 310.0h0M253.2 288.1h0M193.6 285.5h0M170.8 325.9h0M244.1 279.0h0M255.1 287.0h0M244.1 285.6h0M161.7 326.2h0M212.3 294.0h0M267.2 287.1h0M162.9 324.1h0M253.0 287.7h0M190.6 282.6h0M120.7 355.3h0M199.3 290.7h0M144.0 315.4h0M153.7 311.7h0M147.6 304.8h0M219.6 293.2h0M216.6 289.1h0M118.4 352.3h0M211.4 294.4h0M130.2 348.7h0M117.8 351.0h0M107.5 353.0h0M190.5 286.8h0M263.6 288.6h0M162.9 326.6h0M111.5 354.9h0M236.2 274.2h0M147.6 312.1h0M111.2 351.2h0M155.5 313.2h0M218.8 293.0h0M155.1 311.5h0M173.1 328.0h0M256.3 287.0h0M265.5 290.4h0M157.0 312.2h0M234.9 277.6h0M163.8 319.1h0M265.2 294.1h0M109.9 352.0h0M210.1 292.0h0M211.4 289.4h0M172.7 326.3h0M202.8 290.7h0M219.9 294.1h0M173.8 326.1h0M156.5 315.0h0M165.7 323.0h0M198.4 286.3h0M201.1 281.1h0M262.7 289.9h0M190.7 284.1h0M190.6 282.9h0M176.0 325.8h0M267.1 289.6h0M201.3 290.2h0M119.3 349.9h0M154.9 313.3h0M163.5 326.4h0M153.9 303.5h0M146.1 302.7h0M107.6 354.6h0M210.9 289.2h0M172.3 329.9h0M217.0 293.0h0M116.6 352.7h0M171.7 330.9h0M264.8 289.0h0M162.0 324.6h0M174.9 326.3h0M220.2 286.6h0M121.1 350.1h0M216.6 292.2h0M217.8 293.7h0M172.5 328.2h0M246.7 277.7h0M220.4 291.1h0M156.2 312.9h0M171.7 322.0h0M121.0 346.5h0M161.6 311.6h0M238.0 280.2h0M145.4 311.9h0M156.8 310.7h0M248.8 276.7h0M248.3 278.6h0M218.6 294.8h0M235.8 270.8h0M207.2 291.8h0M254.9 279.7h0M209.2 291.0h0M157.7 311.5h0M147.3 311.9h0M192.9 289.9h0M148.2 311.2h0M219.2 295.9h0M208.0 289.2h0M257.3 288.6h0M266.5 291.3h0M145.9 312.5h0M147.7 310.4h0M156.8 309.4h0M200.3 292.2h0M125.8 346.7h0M237.7 275.3h0M265.2 288.0h0M265.5 288.3h0M189.5 287.4h0M212.4 292.1h0M109.3 351.8h0M164.2 323.8h0M221.2 293.4h0M130.2 350.0h0M144.0 307.4h0M218.6 289.9h0M234.8 277.5h0M194.1 282.2h0M200.0 291.7h0M257.7 286.7h0M191.3 287.5h0M192.7 285.5h0M129.2 346.7h0" stroke="#808080" stroke-opacity="0.68" stroke-width="2.1" stroke-linecap="round" fill="none"/>
<path d="M128.5 348.0h0M239.5 272.1h0M257.5 288.4h0M125.5 349.5h0M235.4 278.4h0M108.9 352.4h0M246.5 278.7h0M255.9 286.1h0M174.2 327.0h0M218.3 291.3h0M171.5 328.4h0M117.9 349.4h0M173.2 326.6h0M237.0 272.6h0M109.4 353.1h0M120.4 348.3h0M247.7 279.1h0M157.0 311.1h0M164.6 324.3h0M165.8 331.0h0M161.7 324.5h0M156.2 309.0h0M255.0 288.4h0M235.8 277.5h0M120.8 353.9h0M111.4 354.5h0M218.4 292.5h0M117.1 352.2h0M108.5 354.1h0M254.2 287.2h0M165.0 325.9h0M174.3 334.2h0M154.1 313.9h0M107.3 351.5h0M148.0 311.3h0M200.3 287.6h0M155.4 307.3h0M161.6 321.3h0M219.2 293.0h0M248.1 275.6h0M153.1 310.9h0M266.3 291.7h0M209.8 288.7h0M237.7 277.2h0M130.3 344.7h0M191.2 282.1h0M198.3 289.2h0M157.2 314.5h0M239.9 280.3h0M247.9 283.6h0M121.2 352.3h0M192.3 282.6h0M265.1 289.7h0M203.3 291.1h0M256.5 290.4h0M146.7 310.3h0M117.1 348.0h0M243.9 277.3h0M155.2 308.3h0M220.3 298.9h0M238.7 278.1h0M155.1 313.2h0M245.2 281.1h0M219.2 299.6h0M192.9 287.0h0M165.2 325.6h0M218.6 291.8h0M247.3 281.8h0M111.8 348.7h0M208.7 287.1h0M126.4 349.8h0M216.9 290.5h0M235.7 281.7h0M256.9 286.4h0M219.5 292.3h0M126.1 343.9h0M247.4 280.7h0M108.7 348.9h0M209.3 293.1h0M162.6 323.0h0M262.8 290.2h0M188.9 287.5h0M121.0 352.3h0M144.4 308.0h0M153.3 314.1h0M166.5 325.9h0M111.5 348.1h0M128.8 348.4h0M255.2 286.0h0M165.2 321.1h0M110.5 353.6h0M216.7 295.7h0M163.8 327.8h0M146.8 305.3h0M174.7 325.7h0M194.0 283.0h0M192.3 283.0h0M174.9 331.1h0M238.4 281.4h0M174.8 327.9h0M188.9 284.0h0M193.7 285.2h0M173.3 330.6h0M209.7 289.0h0M172.5 323.0h0M175.6 324.3h0M202.9 290.5h0M256.5 291.5h0M147.5 307.4h0M201.0 288.1h0M245.6 280.7h0M166.2 322.1h0M239.0 278.0h0M117.5 352.8h0M256.4 287.7h0M171.2 332.8h0M257.0 288.4h0M174.6 328.0h0M192.5 280.8h0M253.0 286.4h0M157.7 306.8h0M154.2 312.8h0M111.9 353.0h0M234.8 276.0h0M119.6 350.0h0M174.0 327.6h0M221.4 292.8h0M128.8 351.6h0M243.7 281.4h0M128.5 342.3h0M157.8 312.6h0M130.2 347.7h0M129.1 345.5h0M258.1 285.7h0M173.8 324.1h0M245.0 282.6h0M148.6 310.9h0M165.3 322.4h0M238.0 277.3h0M235.1 281.4h0M257.6 286.0h0M127.9 348.3h0M199.7 290.4h0M252.8 289.0h0M172.0 328.0h0M219.7 292.6h0M247.1 285.8h0M165.8 321.4h0M155.3 311.7h0M126.8 343.8h0M207.9 288.8h0M153.9 312.4h0M236.3 277.1h0M192.6 286.6h0M156.1 312.4h0M212.2 292.7h0M165.3 323.2h0M266.8 284.9h0M236.0 277.2h0M191.5 282.0h0M253.0 287.7h0M109.6 350.2h0M207.2 288.0h0M143.4 313.8h0M108.1 351.0h0M189.8 284.5h0M257.4 290.1h0M255.0 286.3h0M171.7 328.2h0M218.7 293.3h0M154.2 314.0h0M253.7 289.1h0M256.8 289.8h0M146.6 307.1h0M118.8 354.1h0M235.1 277.0h0M191.0 288.3h0M171.6 325.5h0M202.8 293.7h0M176.0 321.4h0M237.5 277.4h0M156.1 313.3h0M174.5 323.2h0M172.5 330.3h0M118.7 351.6h0M198.1 290.7h0M262.7 287.1h0M262.5 291.3h0M202.1 286.8h0M256.8 285.4h0M253.8 289.1h0M236.0 276.9h0M107.2 352.7h0M192.0 282.8h0M198.2 286.6h0M120.7 354.9h0M130.2 342.7h0M125.6 351.0h0M108.4 353.9h0M107.9 355.0h0M118.8 352.7h0M265.7 290.4h0M127.7 345.2h0M166.4 330.9h0M264.8 292.3h0M246.5 282.5h0M216.8 295.2h0M245.5 280.7h0M200.0 289.7h0M117.7 352.5h0M201.4 287.4h0M127.9 348.1h0M155.3 315.4h0M125.8 348.3h0M254.3 285.0h0M248.5 282.6h0M189.5 284.3h0M243.7 280.9h0M143.8 308.7h0M148.5 305.3h0M148.2 311.0h0M125.8 353.0h0M128.3 347.8h0M247.1 276.6h0M127.3 347.3h0M235.1 278.3h0M156.1 311.9h0M126.5 345.7h0M110.8 354.5h0M147.7 310.6h0M253.9 288.2h0M211.5 288.5h0M219.5 291.3h0M117.1 351.7h0M125.3 345.9h0M266.3 289.6h0M201.4 291.9h0M258.2 290.6h0M143.5 313.4h0M146.7 308.7h0M202.9 291.5h0M209.2 291.2h0M192.9 284.5h0M116.0 353.2h0M170.6 325.6h0M256.7 287.6h0M244.7 282.0h0M207.4 294.3h0M110.8 348.8h0M163.3 322.8h0M218.6 287.7h0M209.6 292.8h0M237.8 283.1h0M216.7 294.0h0M117.2 348.3h0M110.2 352.5h0M119.4 354.7h0M166.6 324.4h0M128.2 345.2h0M189.9 286.5h0M108.3 350.1h0M171.1 327.5h0" stroke="#808080" stroke-opacity="0.68" stroke-width="2.1" stroke-linecap="round" fill="none"/>
<path d="M173.8 327.0h0M171.7 328.1h0M247.3 282.9h0M154.7 314.2h0M154.5 310.8h0M108.8 351.8h0M245.6 281.2h0M174.3 324.8h0M120.8 349.4h0M262.8 289.3h0M212.5 287.6h0M253.1 283.8h0M198.9 290.3h0M262.6 290.0h0M111.6 354.8h0M163.2 324.6h0M170.7 324.6h0M117.4 350.5h0M237.6 280.0h0M189.3 280.1h0M263.8 290.5h0M234.8 276.0h0M174.9 325.2h0M127.7 345.3h0M248.5 283.5h0M119.3 353.3h0M255.8 292.2h0M189.0 282.2h0M172.9 326.1h0M108.6 352.0h0M217.7 288.0h0M255.9 292.4h0M116.5 351.8h0M172.7 325.3h0M171.2 330.7h0M220.6 293.1h0M262.8 296.5h0M267.0 288.2h0M202.8 291.2h0M244.2 278.1h0M166.5 324.9h0M117.6 350.1h0M192.5 286.9h0M108.3 352.1h0M210.1 291.5h0M111.2 351.1h0M189.3 287.1h0M154.5 312.2h0M209.6 292.1h0M238.1 278.2h0M199.1 290.2h0M246.6 279.4h0M156.1 312.2h0M247.0 285.8h0M147.8 309.6h0M108.2 354.5h0M207.3 292.7h0M193.6 285.6h0M210.4 289.1h0M201.0 289.4h0M266.6 289.3h0M189.7 283.4h0M156.0 311.3h0M127.6 345.0h0M172.3 328.2h0M199.1 289.3h0M164.3 322.4h0M146.7 307.6h0M219.1 291.1h0M164.9 327.6h0M239.4 279.2h0M163.6 323.2h0M208.4 289.9h0M211.2 290.4h0M143.4 308.3h0M125.5 345.7h0M193.6 284.1h0M266.2 287.7h0M107.2 348.9h0M262.7 288.7h0M199.0 288.4h0M237.8 281.0h0M107.4 352.2h0M209.8 289.5h0M198.9 291.6h0M109.0 352.4h0M173.1 328.8h0M154.3 309.5h0M191.6 283.4h0M257.0 288.0h0M126.0 348.3h0M192.3 284.7h0M144.5 301.2h0M219.4 296.4h0M108.3 351.2h0M107.0 356.5h0M245.1 283.2h0M144.8 307.5h0M120.6 350.5h0M194.3 285.0h0M207.4 292.3h0M189.9 279.3h0M145.9 309.5h0M199.5 287.2h0M127.8 347.0h0M257.8 284.6h0M263.8 285.5h0M143.5 306.5h0M164.3 327.1h0M172.5 326.7h0M239.4 274.9h0M255.2 289.3h0M249.1 280.2h0M120.4 350.8h0M203.0 288.9h0M108.4 354.3h0M258.1 287.9h0M212.5 291.5h0M155.3 306.8h0M248.4 282.9h0M235.4 280.9h0M108.0 351.7h0M194.3 283.4h0M120.2 361.4h0M190.3 284.1h0M210.2 289.3h0M129.4 346.0h0M235.3 274.5h0M198.6 293.3h0M218.3 293.6h0M109.8 349.6h0M118.4 348.9h0M162.3 330.4h0M116.2 351.7h0M218.7 295.9h0M253.4 287.5h0M210.1 294.1h0M111.0 349.1h0M175.9 325.0h0M111.6 356.1h0M198.5 289.0h0M111.0 352.5h0M217.4 293.6h0M248.9 287.9h0M116.9 351.1h0M145.9 310.0h0M164.0 322.2h0M266.5 285.3h0M203.4 289.9h0M257.4 285.2h0M208.0 289.9h0M106.8 350.5h0M219.7 294.7h0M200.5 287.2h0M202.7 290.4h0M247.1 282.1h0M192.7 284.8h0M238.7 267.9h0M211.3 293.2h0M146.0 311.0h0M128.3 350.5h0M157.0 310.9h0M219.6 290.4h0M164.1 323.1h0M173.5 322.9h0M246.3 282.5h0M234.6 277.8h0M255.2 283.4h0M154.6 314.9h0M143.7 311.5h0M262.6 291.3h0M108.7 349.6h0M239.2 276.4h0M212.0 289.4h0M156.1 313.2h0M247.6 278.8h0M175.0 327.9h0M129.2 350.3h0M175.7 325.5h0M210.2 293.8h0M127.5 344.8h0M162.0 327.7h0M143.7 310.3h0M119.7 351.3h0M143.9 311.8h0M236.9 274.0h0M240.0 279.8h0M249.0 282.9h0M262.8 285.7h0M220.2 292.8h0M144.8 309.3h0M126.2 346.6h0M202.7 287.1h0M166.8 325.1h0M248.2 284.2h0M143.4 307.5h0M217.6 297.0h0M249.0 281.9h0M146.4 305.0h0M112.1 351.0h0M117.3 352.1h0M128.3 345.6h0M198.6 289.2h0M127.6 345.9h0M157.4 311.0h0M257.2 288.6h0M127.0 347.1h0M146.4 307.0h0M172.5 327.4h0M163.2 319.8h0M166.1 322.2h0M264.2 288.9h0M163.5 326.2h0M235.3 277.4h0M247.8 277.5h0M239.7 277.2h0M199.4 293.0h0M263.5 290.4h0M106.7 351.3h0M192.1 284.1h0M116.2 354.8h0M164.2 324.4h0M248.8 280.0h0M239.2 274.3h0M212.2 289.3h0M262.4 289.6h0M172.2 329.3h0M245.2 284.0h0M161.6 325.2h0M254.7 292.2h0M199.7 289.8h0M128.0 344.9h0M128.2 350.1h0M109.4 349.9h0M246.9 281.9h0M194.2 284.4h0M164.4 324.0h0M129.3 348.0h0M210.4 290.4h0M162.4 320.5h0M191.4 283.6h0M209.8 291.7h0M190.9 286.4h0M143.4 305.2h0M210.4 291.8h0M218.5 290.3h0M238.8 277.3h0M235.5 280.4h0M211.1 290.2h0M254.5 290.8h0M199.4 287.8h0M198.8 286.7h0M129.8 345.2h0M201.2 287.1h0M152.3 310.5h0M267.2 290.6h0M145.1 313.1h0M255.6 285.3h0M201.1 286.4h0M164.0 326.3h0M203.2 288.1h0M238.6 274.9h0" stroke="#808080" stroke-opacity="0.68" stroke-width="2.1" stroke-linecap="round" fill="none"/>
</g>
<line x1="91.10" y1="267.00" x2="91.10" y2="360.50" stroke="#262626" stroke-width="1.8" stroke-linecap="butt"/>
<line x1="90.20" y1="359.60" x2="274.80" y2="359.60" stroke="#262626" stroke-width="1.8" stroke-linecap="butt"/>
<line x1="80.10" y1="340.90" x2="91.10" y2="340.90" stroke="#262626" stroke-width="2.2" stroke-linecap="butt"/>
<text x="73.80" y="345.40" text-anchor="end" font-size="12.5" fill="#262626">10</text>
<line x1="80.10" y1="295.60" x2="91.10" y2="295.60" stroke="#262626" stroke-width="2.2" stroke-linecap="butt"/>
<text x="73.80" y="300.10" text-anchor="end" font-size="12.5" fill="#262626">15</text>
<line x1="113.94" y1="359.60" x2="113.94" y2="370.60" stroke="#262626" stroke-width="2.2" stroke-linecap="butt"/>
<text x="113.94" y="386.00" text-anchor="middle" font-size="12.5" fill="#262626">NA</text>
<line x1="159.61" y1="359.60" x2="159.61" y2="370.60" stroke="#262626" stroke-width="2.2" stroke-linecap="butt"/>
<text x="159.61" y="386.00" text-anchor="middle" font-size="12.5" fill="#262626">PCL2</text>
<line x1="205.29" y1="359.60" x2="205.29" y2="370.60" stroke="#262626" stroke-width="2.2" stroke-linecap="butt"/>
<text x="205.29" y="386.00" text-anchor="middle" font-size="12.5" fill="#262626">PCM2</text>
<line x1="250.96" y1="359.60" x2="250.96" y2="370.60" stroke="#262626" stroke-width="2.2" stroke-linecap="butt"/>
<text x="250.96" y="386.00" text-anchor="middle" font-size="12.5" fill="#262626">PCH5</text>
<text x="182.45" y="401.90" text-anchor="middle" font-size="12.7" fill="#262626">eGFP promoter</text>
<g transform="translate(54.30 362.60) rotate(-90)" font-size="12.5" fill="#262626"><text x="0" y="0" textLength="19.4" lengthAdjust="spacingAndGlyphs">log</text><text x="22.45" y="2.2" text-anchor="middle" font-size="9.6">2</text><text x="25.6" y="0" font-size="12.7">(eGFP) [AU]</text></g>
<text x="283.40" y="273.90" text-anchor="start" font-size="12.5" fill="#262626">mCherry</text>
<text x="283.40" y="287.60" text-anchor="start" font-size="12.5" fill="#262626">Promoter</text>
<rect x="283.30" y="297.20" width="24.90" height="8.60" fill="#b8d0bf" stroke="#000" stroke-width="1.8"/>
<text x="318.60" y="305.80" text-anchor="start" font-size="12.5" fill="#262626">NA</text>
<rect x="283.30" y="315.10" width="24.90" height="8.60" fill="#84ae92" stroke="#000" stroke-width="1.8"/>
<text x="318.60" y="323.70" text-anchor="start" font-size="12.5" fill="#262626">PCL2</text>
<rect x="283.30" y="333.00" width="24.90" height="8.60" fill="#518c64" stroke="#000" stroke-width="1.8"/>
<text x="318.60" y="341.60" text-anchor="start" font-size="12.5" fill="#262626">PCM2</text>
<rect x="283.30" y="350.90" width="24.90" height="8.60" fill="#1e6a37" stroke="#000" stroke-width="1.8"/>
<text x="318.60" y="359.50" text-anchor="start" font-size="12.5" fill="#262626">PCH5</text>
<rect x="436.30" y="346.00" width="9.13" height="13.60" fill="#b68fa3" stroke="#000" stroke-width="1.7"/>
<rect x="445.44" y="346.00" width="9.13" height="13.60" fill="#995f7c" stroke="#000" stroke-width="1.7"/>
<rect x="454.57" y="346.00" width="9.13" height="13.60" fill="#7b2f55" stroke="#000" stroke-width="1.7"/>
<rect x="472.84" y="315.90" width="9.13" height="43.70" fill="#d4c0ca" stroke="#000" stroke-width="1.7"/>
<rect x="481.98" y="317.50" width="9.13" height="42.10" fill="#b68fa3" stroke="#000" stroke-width="1.7"/>
<rect x="491.11" y="322.90" width="9.13" height="36.70" fill="#995f7c" stroke="#000" stroke-width="1.7"/>
<rect x="500.25" y="322.40" width="9.13" height="37.20" fill="#7b2f55" stroke="#000" stroke-width="1.7"/>
<rect x="518.52" y="292.20" width="9.13" height="67.40" fill="#d4c0ca" stroke="#000" stroke-width="1.7"/>
<rect x="527.65" y="301.70" width="9.13" height="57.90" fill="#b68fa3" stroke="#000" stroke-width="1.7"/>
<rect x="536.79" y="292.60" width="9.13" height="67.00" fill="#995f7c" stroke="#000" stroke-width="1.7"/>
<rect x="545.92" y="299.60" width="9.13" height="60.00" fill="#7b2f55" stroke="#000" stroke-width="1.7"/>
<rect x="564.19" y="278.90" width="9.13" height="80.70" fill="#d4c0ca" stroke="#000" stroke-width="1.7"/>
<rect x="573.33" y="292.20" width="9.13" height="67.40" fill="#b68fa3" stroke="#000" stroke-width="1.7"/>
<rect x="582.46" y="285.20" width="9.13" height="74.40" fill="#995f7c" stroke="#000" stroke-width="1.7"/>
<rect x="591.60" y="292.60" width="9.13" height="67.00" fill="#7b2f55" stroke="#000" stroke-width="1.7"/>
<defs><clipPath id="clip2"><rect x="422.60" y="268.80" width="183.70" height="92.60"/></clipPath></defs>
<g clip-path="url(#clip2)">
<path d="M525.0 290.4h0M541.5 289.1h0M531.3 303.2h0M584.6 284.5h0M575.8 293.1h0M551.9 302.5h0M521.8 291.0h0M502.1 324.0h0M569.8 277.0h0M549.2 300.1h0M459.9 347.1h0M495.7 323.1h0M502.7 321.4h0M532.0 301.3h0M577.4 291.7h0M543.8 293.9h0M595.2 290.7h0M478.9 315.4h0M439.4 344.5h0M577.0 291.9h0M507.5 320.8h0M533.2 300.5h0M595.7 287.2h0M542.3 290.1h0M488.8 316.9h0M504.4 322.0h0M487.2 315.8h0M529.7 301.2h0M530.0 299.4h0M497.1 321.6h0M548.2 298.8h0M596.6 293.2h0M567.7 276.6h0M477.1 317.3h0M579.8 292.4h0M552.6 299.7h0M496.0 318.0h0M460.7 343.1h0M539.0 293.2h0M505.5 321.0h0M584.3 287.8h0M460.6 343.4h0M478.4 314.3h0M475.2 313.2h0M522.5 289.1h0M585.0 284.3h0M520.4 294.1h0M457.0 344.3h0M533.7 297.4h0M460.5 348.5h0M543.4 292.4h0M475.2 310.7h0M597.5 292.4h0M440.2 338.9h0M493.0 322.2h0M570.6 280.8h0M585.8 286.8h0M531.5 299.5h0M532.7 300.6h0M597.0 292.5h0M533.8 301.4h0M531.9 302.9h0M502.1 317.8h0M451.1 342.9h0M476.0 312.1h0M540.9 291.6h0M549.2 298.8h0M449.0 342.3h0M504.9 326.6h0M596.6 293.9h0M521.4 291.6h0M439.4 342.1h0M544.1 293.3h0M575.6 291.4h0M451.2 343.6h0M538.7 289.8h0M548.4 301.1h0M493.8 322.5h0M594.8 294.6h0M487.3 319.3h0M589.3 284.1h0M451.4 345.3h0M539.4 291.0h0M506.1 322.9h0M522.5 291.1h0M577.7 294.6h0M457.8 347.3h0M442.3 348.0h0M585.9 280.9h0M577.4 288.5h0M493.5 320.7h0M595.2 290.0h0M443.5 343.8h0M532.3 301.4h0M522.0 291.5h0M524.6 290.1h0M586.4 284.1h0M451.9 343.5h0M569.2 276.2h0M595.3 291.4h0M451.3 348.8h0M521.8 294.3h0M551.7 301.4h0M521.1 289.1h0M457.0 345.8h0M506.6 318.8h0M475.1 313.8h0M522.4 289.6h0M502.6 320.6h0M533.6 300.1h0M549.7 298.8h0M579.7 289.8h0M570.6 276.7h0M497.5 323.5h0M477.5 314.4h0M524.2 289.2h0M551.1 299.5h0M580.3 287.9h0M577.4 289.9h0M452.5 342.6h0M450.2 343.4h0M533.6 301.6h0M498.2 324.0h0M547.8 301.6h0M596.0 292.2h0M542.5 289.9h0M487.1 317.3h0M552.9 298.3h0M576.7 294.6h0M506.2 325.6h0M569.0 273.2h0M567.1 279.9h0M543.1 291.6h0M479.7 314.2h0M523.3 291.5h0M531.2 297.6h0M531.4 299.2h0M568.3 279.2h0M439.1 349.7h0M489.1 318.1h0M477.5 315.5h0M594.8 290.6h0M586.8 280.8h0M531.9 303.0h0M506.3 321.0h0M597.2 291.0h0M451.8 342.6h0M589.6 286.3h0M441.3 343.1h0M520.4 290.8h0M459.0 342.4h0M596.0 288.5h0M597.9 293.0h0M597.6 290.5h0M443.4 347.2h0M539.5 297.1h0M584.3 287.9h0M587.7 276.4h0M550.3 301.8h0M505.8 320.5h0M524.6 291.4h0M525.2 290.9h0M442.7 345.3h0M477.8 312.6h0M570.6 279.0h0M522.1 289.9h0M460.8 346.6h0M503.6 322.6h0M443.4 343.2h0M597.4 292.1h0M485.6 317.4h0M521.9 292.8h0M549.3 300.5h0M504.6 325.1h0M585.5 281.8h0M575.2 293.9h0M494.1 317.7h0M439.3 351.9h0M542.6 290.7h0M461.6 340.4h0M571.1 280.1h0M543.4 295.7h0M494.4 322.2h0M539.2 291.5h0M586.7 284.8h0M596.6 294.2h0M478.2 318.9h0M594.0 287.3h0M577.3 292.6h0M451.4 346.5h0M439.9 337.0h0M451.7 340.3h0M595.5 291.5h0M494.1 323.5h0M543.4 289.7h0M548.4 299.5h0M589.0 281.1h0M568.0 278.5h0M541.4 293.3h0M534.7 305.0h0M549.8 298.3h0M440.7 340.0h0M443.1 346.6h0M487.2 315.8h0M567.7 276.9h0M571.2 277.2h0M477.3 315.8h0M486.4 319.2h0M442.9 343.1h0M458.6 342.1h0M523.2 289.2h0M495.3 318.9h0M459.6 346.4h0M457.1 340.5h0M570.3 281.8h0M552.4 297.0h0M521.8 291.7h0M550.6 300.5h0M483.9 315.5h0M530.6 298.8h0M549.3 300.1h0M524.1 293.3h0M475.3 311.4h0M587.7 282.1h0M587.2 286.1h0M567.8 281.2h0M447.9 348.7h0M484.6 319.8h0M456.7 342.8h0M459.7 348.2h0M551.3 298.3h0M438.3 344.9h0M492.9 320.5h0M548.3 302.4h0M440.9 345.3h0M539.7 289.5h0M520.5 290.3h0M489.1 316.4h0M441.0 342.0h0M553.1 306.1h0M595.6 293.1h0M551.2 296.0h0M541.6 292.0h0M589.6 280.9h0M598.5 295.5h0M493.7 325.2h0M585.7 286.8h0M586.7 285.1h0M438.3 346.6h0M456.7 342.6h0M524.1 288.6h0M488.5 313.8h0M531.6 302.1h0M438.9 346.3h0M493.1 322.0h0M478.5 312.1h0M597.3 292.0h0M549.9 303.8h0M549.2 293.6h0M532.9 302.5h0M495.4 321.9h0M443.4 342.6h0M451.2 346.9h0" stroke="#808080" stroke-opacity="0.68" stroke-width="2.1" stroke-linecap="round" fill="none"/>
<path d="M597.5 290.7h0M443.1 345.0h0M522.2 291.2h0M484.5 315.1h0M541.5 288.5h0M503.9 323.3h0M532.5 300.7h0M479.6 315.0h0M588.7 282.1h0M496.0 323.7h0M578.3 289.2h0M533.3 299.0h0M595.5 296.2h0M598.2 291.5h0M498.3 319.9h0M533.6 297.4h0M577.5 297.1h0M521.4 291.2h0M568.2 277.6h0M439.5 342.2h0M569.0 278.8h0M457.1 343.8h0M496.3 320.1h0M548.6 300.7h0M587.4 284.1h0M450.0 348.2h0M474.7 313.1h0M586.3 286.1h0M589.1 284.6h0M475.9 318.8h0M505.0 320.6h0M569.7 277.6h0M488.2 314.5h0M532.7 302.3h0M525.4 291.6h0M533.3 302.3h0M497.3 320.5h0M460.5 336.6h0M577.0 290.1h0M477.3 314.5h0M534.3 301.0h0M459.7 338.8h0M458.8 346.3h0M531.3 300.3h0M586.9 284.0h0M567.8 277.2h0M475.4 316.1h0M569.9 276.4h0M503.9 320.6h0M524.4 287.0h0M539.7 291.2h0M487.1 311.1h0M597.3 293.1h0M588.8 281.9h0M493.5 322.9h0M539.7 288.3h0M484.9 315.5h0M494.6 323.7h0M569.5 277.8h0M532.5 300.3h0M580.5 287.6h0M484.0 316.8h0M541.5 291.0h0M594.7 294.2h0M567.4 279.4h0M477.8 316.3h0M460.1 348.1h0M549.6 294.6h0M438.3 346.3h0M579.9 292.5h0M579.5 293.1h0M449.0 343.7h0M575.6 293.5h0M567.5 282.4h0M548.7 295.7h0M549.8 298.1h0M496.7 322.0h0M457.0 345.0h0M478.4 314.0h0M476.4 314.6h0M443.4 344.0h0M569.9 278.1h0M475.5 314.3h0M577.5 291.1h0M525.0 285.9h0M531.7 301.7h0M524.5 293.0h0M569.1 279.1h0M447.7 341.4h0M540.4 295.4h0M502.3 320.0h0M488.3 316.1h0M458.6 346.1h0M476.4 315.4h0M447.7 348.7h0M540.0 289.1h0M542.8 290.6h0M531.2 298.7h0M579.5 295.2h0M452.4 346.1h0M457.2 345.7h0M596.0 289.5h0M459.8 343.7h0M488.4 319.4h0M458.3 347.3h0M497.9 322.2h0M460.0 344.5h0M532.7 300.1h0M520.9 292.6h0M520.6 289.7h0M588.4 285.0h0M442.0 342.2h0M569.5 278.5h0M579.2 291.2h0M459.8 344.3h0M477.1 312.9h0M456.8 340.6h0M439.4 347.1h0M569.0 283.1h0M478.5 312.8h0M598.6 289.3h0M567.7 279.6h0M521.7 291.8h0M578.9 292.7h0M524.3 289.3h0M588.6 287.7h0M567.4 278.2h0M530.9 301.0h0M575.8 293.4h0M525.0 291.4h0M440.6 345.5h0M532.8 303.3h0M507.3 319.7h0M504.7 319.8h0M568.8 278.5h0M580.3 293.0h0M571.3 279.7h0M570.9 277.9h0M496.6 323.9h0M487.2 317.5h0M505.5 324.3h0M458.4 343.7h0M442.3 344.7h0M597.2 290.9h0M577.3 297.5h0M503.7 321.7h0M579.3 293.2h0M567.3 273.9h0M487.3 319.5h0M496.9 318.8h0M568.0 277.1h0M534.0 301.8h0M569.4 275.4h0M448.0 343.5h0M449.8 346.5h0M475.9 314.4h0M550.0 293.4h0M449.9 345.1h0M540.7 291.0h0M441.8 342.6h0M484.8 316.1h0M486.3 307.0h0M596.5 295.0h0M484.0 316.7h0M493.8 323.2h0M441.8 344.5h0M551.4 297.2h0M450.4 345.7h0M542.4 291.5h0M502.3 325.4h0M479.2 313.9h0M461.1 350.0h0M498.0 327.9h0M505.4 324.7h0M476.5 314.8h0M457.5 344.6h0M521.4 286.4h0M523.2 293.4h0M460.8 346.1h0M440.7 344.0h0M539.6 292.3h0M530.8 300.8h0M458.4 348.1h0M495.2 325.3h0M484.0 320.6h0M497.4 324.5h0M595.4 288.4h0M549.1 300.0h0M584.9 284.5h0M442.6 344.4h0M495.5 319.9h0M441.5 346.5h0M493.2 322.2h0M549.1 297.4h0M488.2 321.1h0M523.9 292.1h0M484.9 317.3h0M548.1 298.8h0M566.8 278.4h0M543.6 294.5h0M461.4 343.3h0M448.4 345.5h0M458.0 344.0h0M588.5 282.3h0M448.3 343.1h0M485.8 317.6h0M538.7 290.7h0M570.3 276.2h0M595.7 290.0h0M452.3 345.3h0M497.5 320.8h0M505.0 317.4h0M442.8 346.7h0M440.9 343.3h0M458.0 346.1h0M503.2 321.7h0M588.5 283.6h0M449.2 345.5h0M525.5 288.5h0M588.4 285.0h0M449.9 342.0h0M548.8 298.8h0M460.2 342.5h0M478.0 317.4h0M439.8 342.6h0M450.9 341.7h0M549.6 293.1h0M502.9 324.1h0M589.5 284.7h0M495.9 320.3h0M530.5 302.1h0M460.3 346.1h0M534.8 297.4h0M535.0 300.9h0M487.7 315.3h0M448.5 340.7h0M460.9 344.5h0M475.4 315.1h0M488.1 313.1h0M475.4 318.3h0M523.5 287.4h0M507.5 316.8h0M532.4 300.0h0M461.8 356.7h0M487.0 315.0h0M570.5 279.4h0M484.1 315.6h0M523.7 289.3h0M452.0 341.6h0M585.0 281.4h0M587.3 286.1h0M595.9 287.4h0M479.7 316.5h0M503.0 317.0h0M570.7 277.2h0M575.6 291.7h0M439.1 343.8h0M543.5 294.0h0M524.6 290.6h0M531.5 302.8h0M589.2 286.4h0M476.7 310.8h0M552.0 299.8h0" stroke="#808080" stroke-opacity="0.68" stroke-width="2.1" stroke-linecap="round" fill="none"/>
<path d="M587.3 285.1h0M474.9 318.9h0M541.1 295.6h0M532.1 299.8h0M506.8 324.3h0M548.9 296.7h0M551.9 300.6h0M575.2 288.9h0M593.9 292.3h0M493.7 324.1h0M579.5 289.3h0M566.9 277.7h0M543.8 289.0h0M541.2 288.2h0M597.4 287.9h0M478.1 313.7h0M585.8 287.1h0M475.8 315.3h0M440.1 349.7h0M584.7 281.7h0M456.6 345.4h0M568.4 278.9h0M479.4 317.5h0M458.1 345.5h0M478.2 312.3h0M596.4 297.1h0M589.5 285.0h0M484.2 317.6h0M548.0 296.1h0M533.1 302.4h0M593.4 290.3h0M552.5 296.1h0M579.1 289.7h0M532.6 302.2h0M531.1 301.8h0M449.7 345.4h0M448.3 342.1h0M593.7 289.8h0M438.2 346.5h0M585.4 283.8h0M498.3 318.8h0M575.6 291.2h0M503.4 324.7h0M447.3 344.6h0M532.2 301.0h0M530.3 301.0h0M594.3 289.4h0M595.3 294.3h0M569.3 277.0h0M589.7 284.1h0M443.3 338.0h0M594.9 295.2h0M461.5 346.6h0M579.6 294.6h0M530.6 297.9h0M449.7 344.5h0M457.2 345.0h0M588.8 281.6h0M577.0 291.8h0M552.2 298.5h0M596.3 287.7h0M567.2 279.8h0M521.1 292.1h0M461.8 343.5h0M486.4 315.0h0M530.5 299.4h0M549.7 300.5h0M585.7 284.8h0M497.5 323.3h0M551.0 301.8h0M580.1 291.8h0M593.8 287.7h0M553.0 302.6h0M486.1 318.7h0M502.9 319.1h0M459.3 343.0h0M438.2 343.6h0M460.2 349.0h0M449.3 347.6h0M540.3 294.2h0M456.7 343.9h0M476.8 317.1h0M524.1 290.2h0M578.8 290.7h0M479.4 314.9h0M486.4 316.1h0M522.9 291.1h0M503.7 320.6h0M457.8 343.5h0M542.1 289.4h0M571.3 277.9h0M451.2 339.8h0M553.2 299.7h0M506.0 319.7h0M539.5 291.0h0M498.2 325.1h0M449.7 344.5h0M589.5 283.5h0M588.1 283.4h0M488.1 315.3h0M487.2 319.9h0M440.4 345.0h0M479.0 315.8h0M522.0 293.9h0M568.7 277.0h0M448.9 343.3h0M461.3 343.1h0M529.7 302.0h0M451.2 341.8h0M586.5 282.6h0M553.1 301.9h0M534.4 300.5h0M440.5 343.8h0M524.6 293.5h0M484.4 311.5h0M457.5 347.9h0M497.3 323.9h0M575.5 289.3h0M551.4 303.2h0M577.5 294.2h0M438.3 347.7h0M542.2 291.1h0M474.7 318.4h0M456.9 346.2h0M587.2 284.2h0M521.6 294.5h0M504.4 325.5h0M541.6 291.0h0M505.4 323.2h0M477.3 312.3h0M539.8 283.8h0M578.8 292.1h0M448.4 346.4h0M522.1 288.9h0M493.5 323.0h0M452.7 343.9h0M541.3 293.8h0M532.5 297.3h0M523.5 288.8h0M575.6 291.5h0M570.9 279.8h0M461.0 344.6h0M552.6 301.7h0M495.2 325.5h0M580.2 291.9h0M475.9 313.8h0M595.2 293.6h0M506.9 320.1h0M498.3 321.6h0M442.1 346.1h0M531.2 306.4h0M539.4 292.0h0M524.9 288.4h0M540.9 292.4h0M460.2 348.4h0M497.9 324.6h0M486.7 319.1h0M550.7 300.5h0M542.3 292.5h0M448.2 343.2h0M451.6 343.2h0M586.5 283.6h0M488.1 316.9h0M551.2 300.2h0M459.2 344.6h0M586.4 282.9h0M504.7 319.7h0M475.7 317.2h0M597.7 289.7h0M575.8 291.0h0M497.4 319.5h0M594.0 285.3h0M541.1 290.7h0M541.8 295.2h0M506.3 322.1h0M480.0 315.4h0M548.8 296.5h0M457.4 346.7h0M588.9 287.0h0M571.2 282.2h0M530.8 303.8h0M569.5 275.0h0M486.0 317.8h0M447.4 342.9h0M448.2 346.8h0M457.3 346.3h0M497.4 324.2h0M442.0 346.9h0M525.0 292.5h0M502.8 319.5h0M496.1 320.7h0M438.2 345.5h0M593.9 294.4h0M571.1 278.4h0M505.3 325.4h0M506.8 320.6h0M498.2 321.9h0M489.1 313.3h0M523.4 288.8h0M541.2 281.2h0M479.6 318.8h0M493.3 326.0h0M551.4 299.5h0M487.9 317.8h0M588.0 283.7h0M441.0 343.8h0M477.6 312.8h0M485.1 316.2h0M485.7 317.5h0M566.3 282.4h0M568.5 272.5h0M570.7 278.4h0M529.5 300.4h0M438.7 345.3h0M502.7 318.8h0M541.0 290.5h0M530.6 296.5h0M551.0 298.8h0M504.0 323.8h0M576.9 291.1h0M497.4 322.6h0M503.6 315.8h0M460.1 342.6h0M497.1 326.4h0M450.8 349.9h0M487.1 315.8h0M576.1 291.6h0M575.8 293.5h0M548.6 302.6h0M598.8 288.6h0M579.6 290.7h0M541.6 289.8h0M549.9 302.5h0M552.4 305.4h0M522.0 296.2h0M476.0 317.9h0M442.1 345.3h0M494.4 321.1h0M532.4 301.5h0M505.0 322.5h0M542.6 289.9h0M441.0 343.9h0M443.0 344.5h0M597.9 294.3h0M506.3 321.3h0M584.4 287.2h0M449.5 348.1h0M575.8 292.6h0M567.2 272.8h0M523.6 286.9h0M594.8 288.0h0M541.5 289.8h0M577.7 289.8h0M504.4 323.7h0M567.4 279.9h0M550.6 297.4h0M494.7 320.5h0M577.7 286.8h0M585.5 287.7h0M479.1 317.6h0M442.9 342.9h0M506.3 323.1h0" stroke="#808080" stroke-opacity="0.68" stroke-width="2.1" stroke-linecap="round" fill="none"/>
<path d="M506.1 320.3h0M585.9 283.7h0M503.6 319.6h0M477.2 312.6h0M495.8 321.2h0M567.1 281.3h0M540.1 289.3h0M575.9 291.8h0M533.8 298.3h0M520.5 294.4h0M477.5 310.9h0M589.0 281.6h0M541.6 291.8h0M486.0 316.4h0M502.8 322.8h0M480.0 318.5h0M544.1 290.5h0M531.5 302.9h0M497.8 323.6h0M569.7 275.8h0M448.1 351.0h0M541.0 287.2h0M584.4 274.9h0M504.6 316.2h0M525.4 293.8h0M532.9 302.2h0M447.8 343.9h0M498.0 322.5h0M551.0 296.7h0M576.8 292.5h0M579.6 291.8h0M566.5 278.1h0M586.9 286.0h0M541.4 290.8h0M542.2 288.1h0M486.3 318.5h0M486.9 311.2h0M448.8 352.2h0M438.7 343.4h0M577.8 292.6h0M596.4 291.4h0M579.4 291.9h0M575.7 288.4h0M452.3 346.5h0M441.2 341.9h0M553.0 295.5h0M450.5 347.7h0M584.9 287.0h0M441.7 344.2h0M577.0 297.9h0M476.4 312.7h0M586.8 284.7h0M596.7 293.5h0M552.0 300.1h0M585.2 286.5h0M553.2 300.9h0M597.9 290.6h0M576.3 293.2h0M570.6 280.5h0M498.4 321.4h0M589.6 286.7h0M567.0 281.0h0M570.3 273.4h0M551.7 296.2h0M488.9 319.7h0M594.8 293.7h0M533.5 298.1h0M447.3 345.4h0M506.6 322.8h0M458.9 346.0h0M440.4 345.6h0M439.3 338.2h0M461.5 346.7h0M532.9 304.4h0M439.4 345.8h0M452.5 348.8h0M551.9 299.2h0M550.0 301.5h0M440.4 345.4h0M588.8 284.8h0M578.4 291.4h0M485.5 313.3h0M584.4 285.7h0M452.2 338.5h0M588.7 284.0h0M440.9 343.8h0M568.9 276.3h0M543.9 292.6h0M477.2 318.1h0M525.6 289.2h0M476.3 317.6h0M570.4 278.1h0M440.2 346.3h0M458.9 344.3h0M530.7 299.6h0M594.3 293.7h0M541.6 292.7h0M529.7 304.1h0M441.3 346.1h0M458.6 343.2h0M475.6 311.9h0M475.4 317.7h0M585.8 285.1h0M449.9 347.4h0M498.2 320.5h0M529.6 299.7h0M543.9 289.3h0M523.0 293.6h0M595.6 289.5h0M495.2 319.4h0M566.7 274.9h0M447.8 342.4h0M478.2 314.9h0M494.3 321.9h0M440.9 360.0h0M442.3 340.2h0M575.7 291.6h0M598.1 294.4h0M533.9 301.0h0M540.0 293.8h0M551.6 295.7h0M477.0 315.8h0M523.4 288.8h0M496.3 324.8h0M578.2 299.3h0M488.2 316.6h0M484.3 317.0h0M520.7 292.3h0M460.3 346.2h0M547.9 297.2h0M525.4 293.7h0M486.9 318.0h0M447.9 348.5h0M524.9 290.9h0M447.4 337.8h0M505.7 318.8h0M525.2 291.3h0M539.0 289.2h0M521.7 292.0h0M440.1 348.1h0M485.7 315.1h0M450.8 341.9h0M489.2 320.7h0M594.8 289.1h0M522.7 289.7h0M541.4 293.0h0M496.3 322.4h0M503.4 323.1h0M452.6 342.9h0M506.9 323.1h0M450.1 343.3h0M475.8 317.0h0M507.4 320.1h0M594.8 293.4h0M488.5 315.2h0M530.3 301.3h0M449.7 342.1h0M494.0 323.5h0M595.9 292.6h0M596.1 284.6h0M493.2 317.9h0M506.5 317.1h0M488.2 318.9h0M523.1 295.8h0M487.7 317.6h0M450.8 341.0h0M506.6 322.8h0M488.7 321.7h0M457.7 343.9h0M584.8 290.0h0M486.6 316.6h0M593.6 291.1h0M477.2 317.7h0M442.5 345.9h0M523.5 289.7h0M570.1 275.8h0M568.5 281.2h0M542.4 289.3h0M530.8 298.2h0M596.0 292.9h0M497.5 318.8h0M587.0 284.4h0M461.4 349.0h0M495.0 322.8h0M576.0 287.4h0M578.3 292.3h0M442.7 346.1h0M523.7 292.5h0M594.1 290.5h0M532.7 298.6h0M552.9 295.5h0M447.6 350.2h0M488.6 315.1h0M578.1 295.9h0M596.8 292.7h0M533.3 301.7h0M477.6 311.7h0M577.7 292.0h0M542.5 292.3h0M594.5 285.5h0M596.3 293.6h0M542.7 290.2h0M504.7 323.6h0M479.6 315.4h0M497.3 328.1h0M507.2 322.5h0M587.7 283.3h0M586.6 286.5h0M489.1 318.0h0M484.6 315.2h0M451.6 344.4h0M497.6 325.3h0M524.3 281.3h0M486.0 315.0h0M542.9 292.0h0M570.0 273.1h0M524.1 289.1h0M580.2 289.6h0M486.5 312.6h0M451.5 344.9h0M578.4 297.7h0M569.2 273.6h0M503.5 322.5h0M550.0 296.7h0M486.6 316.7h0M580.6 288.8h0M486.0 313.6h0M568.9 274.1h0M448.9 343.4h0M578.9 289.1h0M456.7 346.4h0M483.9 314.2h0M569.5 278.5h0M566.2 276.1h0M550.4 299.0h0M496.5 320.3h0M449.1 345.3h0M479.3 319.3h0M451.1 343.5h0M495.2 324.0h0M548.3 296.0h0M503.3 316.7h0M503.2 323.6h0M475.8 310.9h0M461.9 342.0h0M543.9 291.5h0M458.2 342.9h0M598.9 291.6h0M584.5 284.1h0M540.4 294.4h0M531.4 303.1h0M502.4 320.5h0M503.8 321.4h0M440.7 345.1h0M477.8 314.4h0M507.0 321.6h0M460.6 346.2h0M505.6 324.4h0M498.3 322.2h0M579.7 289.4h0M594.2 290.1h0M477.5 312.8h0" stroke="#808080" stroke-opacity="0.68" stroke-width="2.1" stroke-linecap="round" fill="none"/>
</g>
<line x1="422.60" y1="267.00" x2="422.60" y2="360.50" stroke="#262626" stroke-width="1.8" stroke-linecap="butt"/>
<line x1="421.70" y1="359.60" x2="606.30" y2="359.60" stroke="#262626" stroke-width="1.8" stroke-linecap="butt"/>
<line x1="411.60" y1="350.50" x2="422.60" y2="350.50" stroke="#262626" stroke-width="2.2" stroke-linecap="butt"/>
<text x="405.30" y="355.00" text-anchor="end" font-size="12.5" fill="#262626">5</text>
<line x1="411.60" y1="304.60" x2="422.60" y2="304.60" stroke="#262626" stroke-width="2.2" stroke-linecap="butt"/>
<text x="405.30" y="309.10" text-anchor="end" font-size="12.5" fill="#262626">10</text>
<line x1="445.44" y1="359.60" x2="445.44" y2="370.60" stroke="#262626" stroke-width="2.2" stroke-linecap="butt"/>
<text x="445.44" y="386.00" text-anchor="middle" font-size="12.5" fill="#262626">NA</text>
<line x1="491.11" y1="359.60" x2="491.11" y2="370.60" stroke="#262626" stroke-width="2.2" stroke-linecap="butt"/>
<text x="491.11" y="386.00" text-anchor="middle" font-size="12.5" fill="#262626">PCL2</text>
<line x1="536.79" y1="359.60" x2="536.79" y2="370.60" stroke="#262626" stroke-width="2.2" stroke-linecap="butt"/>
<text x="536.79" y="386.00" text-anchor="middle" font-size="12.5" fill="#262626">PCM2</text>
<line x1="582.46" y1="359.60" x2="582.46" y2="370.60" stroke="#262626" stroke-width="2.2" stroke-linecap="butt"/>
<text x="582.46" y="386.00" text-anchor="middle" font-size="12.5" fill="#262626">PCH5</text>
<text x="513.95" y="401.90" text-anchor="middle" font-size="12.7" fill="#262626">mCherry promoter</text>
<g transform="translate(386.30 370.00) rotate(-90)" font-size="12.5" fill="#262626"><text x="0" y="0" textLength="19.4" lengthAdjust="spacingAndGlyphs">log</text><text x="22.45" y="2.2" text-anchor="middle" font-size="9.6">2</text><text x="25.6" y="0" font-size="12.7">(mCherry) [AU]</text></g>
<text x="614.90" y="273.90" text-anchor="start" font-size="12.5" fill="#262626">eGFP</text>
<text x="614.90" y="287.60" text-anchor="start" font-size="12.5" fill="#262626">Promoter</text>
<rect x="614.80" y="297.20" width="24.90" height="8.60" fill="#d4c0ca" stroke="#000" stroke-width="1.8"/>
<text x="650.10" y="305.80" text-anchor="start" font-size="12.5" fill="#262626">NA</text>
<rect x="614.80" y="315.10" width="24.90" height="8.60" fill="#b68fa3" stroke="#000" stroke-width="1.8"/>
<text x="650.10" y="323.70" text-anchor="start" font-size="12.5" fill="#262626">PCL2</text>
<rect x="614.80" y="333.00" width="24.90" height="8.60" fill="#995f7c" stroke="#000" stroke-width="1.8"/>
<text x="650.10" y="341.60" text-anchor="start" font-size="12.5" fill="#262626">PCM2</text>
<rect x="614.80" y="350.90" width="24.90" height="8.60" fill="#7b2f55" stroke="#000" stroke-width="1.8"/>
<text x="650.10" y="359.50" text-anchor="start" font-size="12.5" fill="#262626">PCH5</text>
<rect x="104.80" y="758.90" width="9.13" height="11.80" fill="#84ae92" stroke="#000" stroke-width="1.7"/>
<rect x="113.94" y="759.30" width="9.13" height="11.40" fill="#518c64" stroke="#000" stroke-width="1.7"/>
<rect x="123.07" y="754.00" width="9.13" height="16.70" fill="#1e6a37" stroke="#000" stroke-width="1.7"/>
<rect x="141.34" y="716.00" width="9.13" height="54.70" fill="#b8d0bf" stroke="#000" stroke-width="1.7"/>
<rect x="150.48" y="716.50" width="9.13" height="54.20" fill="#84ae92" stroke="#000" stroke-width="1.7"/>
<rect x="159.61" y="718.60" width="9.13" height="52.10" fill="#518c64" stroke="#000" stroke-width="1.7"/>
<rect x="168.75" y="720.70" width="9.13" height="50.00" fill="#1e6a37" stroke="#000" stroke-width="1.7"/>
<rect x="187.02" y="689.70" width="9.13" height="81.00" fill="#b8d0bf" stroke="#000" stroke-width="1.7"/>
<rect x="196.15" y="697.60" width="9.13" height="73.10" fill="#84ae92" stroke="#000" stroke-width="1.7"/>
<rect x="205.29" y="697.20" width="9.13" height="73.50" fill="#518c64" stroke="#000" stroke-width="1.7"/>
<rect x="214.42" y="692.90" width="9.13" height="77.80" fill="#1e6a37" stroke="#000" stroke-width="1.7"/>
<rect x="232.69" y="680.60" width="9.13" height="90.10" fill="#b8d0bf" stroke="#000" stroke-width="1.7"/>
<rect x="241.83" y="689.40" width="9.13" height="81.30" fill="#84ae92" stroke="#000" stroke-width="1.7"/>
<rect x="250.96" y="689.40" width="9.13" height="81.30" fill="#518c64" stroke="#000" stroke-width="1.7"/>
<rect x="260.10" y="684.10" width="9.13" height="86.60" fill="#1e6a37" stroke="#000" stroke-width="1.7"/>
<defs><clipPath id="clip3"><rect x="91.10" y="679.90" width="183.70" height="92.60"/></clipPath></defs>
<g clip-path="url(#clip3)">
<path d="M126.9 751.7h0M166.8 719.7h0M254.5 690.2h0M217.9 690.2h0M202.7 698.2h0M121.1 758.3h0M263.0 683.3h0M255.3 690.2h0M118.7 758.7h0M147.1 711.4h0M248.9 689.2h0M245.1 693.1h0M237.8 680.9h0M217.6 688.2h0M239.0 679.9h0M118.0 761.6h0M189.9 690.2h0M263.4 682.1h0M174.3 719.9h0M256.4 686.7h0M111.3 765.7h0M262.2 679.1h0M165.1 719.2h0M153.9 715.2h0M265.0 681.5h0M257.7 686.6h0M171.8 721.3h0M243.9 689.7h0M194.2 692.6h0M165.7 714.6h0M266.4 682.2h0M218.7 692.2h0M252.9 689.8h0M221.2 696.6h0M200.0 695.4h0M244.4 691.1h0M211.7 695.3h0M211.2 701.2h0M128.5 753.1h0M262.0 684.7h0M199.9 694.7h0M109.0 756.9h0M203.1 696.3h0M247.2 694.5h0M209.2 694.9h0M200.4 698.6h0M111.5 760.6h0M119.9 761.3h0M208.1 697.2h0M129.1 751.9h0M108.3 758.0h0M146.1 716.4h0M219.7 691.5h0M128.5 752.6h0M156.0 716.0h0M210.2 697.2h0M129.0 751.2h0M190.2 687.9h0M157.2 713.7h0M239.7 678.9h0M111.2 757.1h0M161.6 719.0h0M155.3 717.3h0M192.1 686.3h0M120.2 756.4h0M127.9 752.4h0M239.3 676.3h0M237.3 682.1h0M116.6 766.3h0M212.4 699.0h0M253.7 687.1h0M174.7 720.0h0M145.1 712.2h0M236.1 681.3h0M111.7 760.1h0M237.8 676.6h0M163.4 718.3h0M191.2 685.3h0M127.8 753.5h0M208.2 693.8h0M154.2 715.9h0M208.0 694.3h0M175.9 717.3h0M126.6 751.1h0M217.8 692.2h0M216.7 693.7h0M237.8 682.3h0M198.4 693.8h0M173.0 718.2h0M116.8 760.3h0M199.1 693.7h0M117.5 762.7h0M239.5 678.5h0M173.0 718.9h0M248.1 684.4h0M244.1 692.3h0M258.3 688.1h0M175.9 720.4h0M264.9 684.6h0M155.3 715.7h0M170.6 718.7h0M117.8 757.0h0M266.7 669.5h0M199.9 693.1h0M171.9 720.8h0M128.9 753.6h0M264.0 685.6h0M128.5 754.1h0M248.5 687.0h0M199.9 694.6h0M255.3 686.1h0M238.4 679.4h0M253.4 688.7h0M161.8 715.3h0M263.9 682.3h0M107.7 756.4h0M210.5 696.6h0M257.9 686.9h0M110.1 757.0h0M154.6 712.7h0M245.4 686.9h0M161.9 717.5h0M220.9 694.3h0M237.1 677.0h0M258.2 688.1h0M127.9 752.3h0M189.7 692.5h0M244.6 687.9h0M165.0 718.9h0M220.9 688.9h0M245.8 689.2h0M201.2 693.5h0M144.6 712.5h0M172.1 720.0h0M111.3 747.6h0M267.1 685.0h0M199.0 698.0h0M146.9 715.8h0M108.3 759.6h0M203.3 693.7h0M156.5 713.0h0M193.9 689.5h0M211.0 694.4h0M193.7 688.0h0M207.4 693.3h0M217.9 690.8h0M245.8 687.6h0M266.4 682.9h0M147.4 719.9h0M171.5 720.1h0M212.5 699.5h0M210.5 699.0h0M244.5 689.1h0M192.5 687.1h0M173.1 716.9h0M116.3 759.3h0M173.4 719.4h0M164.5 721.0h0M157.7 721.0h0M108.9 759.0h0M166.1 717.8h0M248.3 687.8h0M190.7 688.1h0M256.9 687.6h0M221.2 688.2h0M200.6 696.2h0M236.2 679.6h0M119.5 766.4h0M165.6 718.5h0M190.6 686.7h0M110.0 762.2h0M216.7 691.6h0M246.4 687.6h0M238.1 679.4h0M110.6 762.4h0M257.8 689.6h0M155.0 714.2h0M153.2 712.7h0M253.1 687.7h0M263.3 683.0h0M154.4 714.8h0M116.1 758.2h0M220.1 688.5h0M165.8 717.9h0M118.4 754.2h0M116.4 760.8h0M257.7 687.7h0M192.4 689.9h0M266.4 684.9h0M210.9 694.7h0M221.2 690.5h0M238.8 680.2h0M202.5 697.1h0M176.0 719.2h0M189.3 689.6h0M200.6 702.9h0M152.7 719.4h0M202.6 697.4h0M152.7 713.8h0M117.5 756.4h0M264.2 683.4h0M110.5 757.0h0M211.0 697.1h0M146.0 713.2h0M118.9 759.0h0M111.6 755.7h0M236.4 683.7h0M256.0 687.3h0M155.7 713.0h0M163.3 721.0h0M212.5 696.7h0M208.6 703.6h0M217.6 691.1h0M221.6 688.3h0M264.5 682.9h0M262.0 686.2h0M148.3 710.4h0M218.5 694.2h0M144.3 712.6h0M173.9 718.5h0M235.0 677.7h0M143.3 714.9h0M148.1 716.1h0M116.2 760.2h0M156.6 712.8h0M117.1 758.3h0M202.8 695.6h0M172.0 717.6h0M108.3 760.8h0M154.7 718.1h0M202.4 699.7h0M147.3 713.3h0M107.9 755.9h0M145.5 717.8h0M173.6 719.2h0M200.9 695.9h0M155.7 718.9h0M120.7 758.6h0M202.6 694.8h0M147.7 720.7h0M201.4 698.8h0M110.5 756.0h0M146.1 713.6h0M256.1 685.7h0M110.8 757.2h0M144.0 713.2h0M146.5 704.8h0M253.6 689.0h0M172.6 722.3h0M162.5 715.3h0M153.4 717.0h0M108.5 756.2h0M194.0 689.3h0M107.9 756.5h0M255.1 687.3h0M165.4 717.3h0M256.8 687.6h0M247.4 688.5h0M153.9 721.8h0M202.1 696.0h0M221.0 691.1h0M115.8 759.2h0M164.3 718.5h0" stroke="#808080" stroke-opacity="0.68" stroke-width="2.1" stroke-linecap="round" fill="none"/>
<path d="M162.4 720.8h0M171.3 721.5h0M164.4 719.6h0M189.3 684.4h0M265.6 686.9h0M211.0 696.3h0M111.1 756.9h0M263.9 685.1h0M244.8 689.1h0M201.5 700.6h0M108.7 759.3h0M171.7 718.6h0M152.5 716.3h0M263.4 683.2h0M174.2 716.7h0M254.4 686.4h0M265.8 683.3h0M208.3 696.6h0M235.8 674.3h0M120.3 759.1h0M200.7 692.5h0M246.8 687.8h0M127.5 751.5h0M111.6 753.5h0M194.2 685.0h0M153.8 719.7h0M192.1 688.4h0M172.7 717.0h0M189.5 686.5h0M145.8 712.9h0M171.5 719.4h0M265.8 679.1h0M245.3 684.4h0M217.1 692.6h0M255.9 691.0h0M171.6 721.2h0M198.5 700.2h0M255.9 691.0h0M108.2 758.4h0M125.1 755.5h0M248.3 687.0h0M189.5 690.5h0M146.9 714.8h0M127.3 753.1h0M200.6 694.6h0M175.3 719.1h0M125.8 753.7h0M255.4 686.1h0M109.4 748.5h0M219.4 688.9h0M192.9 686.3h0M154.0 715.3h0M244.7 686.5h0M208.4 697.3h0M246.5 687.2h0M162.4 717.3h0M109.7 760.3h0M146.5 713.6h0M192.0 690.1h0M191.6 685.3h0M247.8 690.2h0M189.9 688.7h0M129.2 753.6h0M218.2 695.6h0M267.1 683.8h0M163.5 718.0h0M218.1 693.0h0M245.7 687.3h0M111.9 759.1h0M201.5 695.3h0M109.8 753.3h0M157.0 714.1h0M239.5 681.5h0M265.1 682.4h0M253.7 692.8h0M126.8 754.3h0M199.1 694.4h0M199.1 696.8h0M202.3 696.6h0M126.6 754.5h0M173.2 721.7h0M161.9 722.7h0M120.9 760.3h0M110.5 759.3h0M208.0 697.2h0M125.5 754.3h0M126.0 753.4h0M266.8 682.4h0M264.6 685.0h0M117.4 760.6h0M200.8 701.1h0M164.4 718.4h0M236.6 681.1h0M264.5 686.0h0M256.8 686.0h0M189.9 686.1h0M157.6 713.2h0M263.1 682.1h0M164.1 717.6h0M171.7 714.3h0M263.8 683.2h0M264.7 684.8h0M208.4 685.9h0M165.3 719.5h0M190.2 691.1h0M211.0 698.0h0M238.5 680.8h0M199.2 696.0h0M234.6 680.0h0M128.8 757.3h0M220.0 689.1h0M238.5 678.5h0M166.1 713.3h0M262.1 680.8h0M209.0 697.1h0M254.7 688.3h0M198.9 693.3h0M119.4 760.5h0M148.4 713.5h0M201.6 694.7h0M198.3 700.2h0M265.5 684.5h0M128.2 751.5h0M203.4 696.2h0M128.7 757.0h0M245.4 688.0h0M108.3 757.5h0M116.3 760.6h0M164.8 719.7h0M202.1 696.0h0M264.3 679.3h0M209.7 699.5h0M262.0 680.7h0M239.5 679.5h0M239.0 681.1h0M256.7 684.1h0M256.1 690.6h0M216.8 692.7h0M198.0 697.1h0M153.3 716.0h0M163.1 717.2h0M127.1 758.6h0M164.1 717.1h0M193.7 687.4h0M152.8 716.4h0M144.1 714.7h0M245.3 687.9h0M202.8 698.0h0M127.7 752.5h0M127.8 751.0h0M155.3 715.3h0M166.6 721.6h0M248.2 687.6h0M119.8 761.8h0M194.3 690.7h0M144.5 712.2h0M243.7 689.4h0M166.8 716.1h0M237.8 677.1h0M201.6 694.3h0M128.1 755.0h0M249.1 688.1h0M249.0 691.0h0M145.4 716.1h0M192.7 686.1h0M162.2 716.1h0M216.4 689.9h0M253.8 684.7h0M156.5 716.1h0M162.5 718.5h0M235.0 681.8h0M218.9 689.5h0M143.6 714.6h0M127.9 754.9h0M254.9 689.5h0M107.9 756.4h0M254.2 690.6h0M212.0 699.0h0M244.0 683.3h0M219.6 688.9h0M107.3 758.4h0M257.4 690.1h0M247.4 689.2h0M238.6 678.1h0M170.9 719.6h0M129.3 757.9h0M262.1 685.7h0M164.4 719.0h0M209.2 694.3h0M265.8 686.8h0M165.2 719.2h0M126.4 753.4h0M166.3 717.9h0M156.0 718.4h0M110.0 757.4h0M173.8 720.2h0M193.2 688.4h0M161.7 717.1h0M119.4 759.9h0M125.3 753.1h0M253.8 690.4h0M118.7 759.5h0M193.9 694.0h0M116.8 759.2h0M190.4 686.7h0M244.4 688.5h0M110.5 751.0h0M146.1 719.5h0M219.0 691.0h0M173.7 720.8h0M257.5 690.0h0M119.8 754.5h0M217.2 690.6h0M145.6 717.5h0M236.0 677.6h0M211.6 688.8h0M208.1 693.6h0M162.0 716.1h0M220.9 696.1h0M191.2 690.1h0M156.7 713.3h0M152.7 715.8h0M116.8 759.9h0M209.4 699.5h0M257.0 691.6h0M266.8 683.8h0M189.9 690.3h0M201.1 698.0h0M190.6 689.3h0M236.0 677.7h0M190.5 687.5h0M266.0 682.0h0M111.0 754.9h0M265.5 685.7h0M111.5 746.9h0M237.8 679.6h0M218.1 689.8h0M110.1 760.1h0M237.8 679.2h0M172.6 716.3h0M144.8 715.9h0M234.6 676.7h0M238.5 683.4h0M219.4 694.1h0M118.2 757.0h0M143.6 715.7h0M202.9 694.6h0M144.4 715.4h0M220.4 696.5h0M238.1 680.8h0M263.3 678.3h0M211.6 694.1h0M189.1 690.7h0M128.4 751.6h0M199.4 695.2h0M108.2 755.6h0M257.9 684.1h0M172.2 719.1h0M156.8 720.8h0M200.8 694.6h0M248.9 689.8h0M189.4 685.9h0M264.6 684.5h0" stroke="#808080" stroke-opacity="0.68" stroke-width="2.1" stroke-linecap="round" fill="none"/>
<path d="M127.1 754.0h0M219.7 690.7h0M147.2 713.2h0M216.9 692.4h0M246.6 690.3h0M143.8 713.3h0M147.7 715.6h0M210.0 695.6h0M145.2 714.1h0M235.7 678.1h0M203.1 695.0h0M171.1 732.3h0M262.9 680.5h0M190.9 688.5h0M212.4 696.4h0M171.1 715.0h0M248.3 688.7h0M144.4 716.4h0M244.7 686.4h0M153.7 718.3h0M235.0 680.2h0M266.0 679.4h0M157.5 719.3h0M247.1 691.1h0M200.8 694.9h0M247.5 686.5h0M212.2 696.3h0M127.1 752.3h0M198.0 695.9h0M163.1 722.5h0M115.9 757.4h0M119.7 755.7h0M174.7 718.8h0M234.8 680.5h0M217.9 694.4h0M171.7 720.2h0M162.0 714.7h0M147.4 715.5h0M190.0 687.0h0M111.4 758.9h0M116.4 762.6h0M199.7 698.3h0M148.4 714.0h0M193.8 691.6h0M157.7 716.3h0M147.2 713.6h0M265.7 684.6h0M256.8 685.1h0M209.4 697.3h0M218.1 690.0h0M173.7 719.9h0M265.9 680.5h0M175.4 720.6h0M217.6 691.9h0M246.9 684.7h0M209.6 697.1h0M217.4 689.0h0M145.1 714.5h0M191.5 690.1h0M111.3 756.2h0M147.3 716.5h0M253.6 682.8h0M189.8 687.2h0M239.5 681.5h0M210.3 696.4h0M153.3 724.2h0M217.8 700.3h0M247.1 685.6h0M148.5 709.3h0M112.1 759.5h0M153.8 721.4h0M254.3 687.7h0M154.7 716.1h0M202.8 699.8h0M163.4 721.7h0M118.5 759.2h0M201.2 693.6h0M191.8 688.9h0M174.6 717.2h0M153.2 712.6h0M254.0 690.3h0M238.3 676.3h0M172.1 720.2h0M237.6 681.3h0M235.3 677.4h0M237.7 681.5h0M109.7 757.4h0M262.0 682.1h0M129.6 751.3h0M247.2 686.8h0M217.6 689.3h0M254.2 687.3h0M148.2 712.6h0M236.3 683.9h0M144.8 715.0h0M207.6 709.4h0M264.3 686.0h0M217.9 692.2h0M237.3 679.6h0M207.7 694.9h0M144.5 716.2h0M263.7 678.8h0M125.8 753.2h0M191.8 686.6h0M126.1 754.0h0M148.5 716.6h0M174.9 720.4h0M156.5 711.4h0M236.2 683.3h0M165.5 717.8h0M246.2 689.7h0M210.8 686.6h0M218.0 694.2h0M239.7 683.7h0M208.9 702.1h0M146.1 717.3h0M175.0 717.6h0M221.1 693.0h0M157.3 711.8h0M221.7 692.2h0M154.7 717.6h0M246.3 690.3h0M267.3 681.5h0M119.6 757.0h0M212.4 695.9h0M256.9 690.9h0M239.5 675.6h0M175.7 719.0h0M267.2 681.2h0M119.7 760.3h0M247.2 688.5h0M257.9 688.0h0M157.4 714.4h0M238.0 679.7h0M220.8 691.6h0M256.9 687.7h0M236.2 676.5h0M208.9 699.7h0M202.6 693.3h0M109.9 756.6h0M147.1 714.5h0M202.1 698.7h0M166.4 717.9h0M126.1 755.1h0M218.7 698.2h0M173.8 720.3h0M144.5 716.8h0M266.3 684.9h0M155.0 715.3h0M171.7 721.2h0M189.7 698.1h0M193.8 692.9h0M234.9 681.4h0M218.0 691.5h0M129.3 756.7h0M254.8 685.2h0M202.2 700.1h0M209.4 697.6h0M110.6 756.0h0M256.9 684.8h0M128.8 753.7h0M154.4 710.5h0M110.1 756.9h0M189.9 686.5h0M153.7 714.0h0M153.6 722.4h0M107.6 759.0h0M220.0 692.4h0M110.7 756.5h0M164.6 717.9h0M258.1 686.0h0M156.9 716.5h0M164.1 723.6h0M109.1 763.6h0M129.8 750.8h0M219.0 691.0h0M209.7 696.7h0M166.9 715.8h0M119.8 755.2h0M163.8 718.3h0M128.7 750.2h0M117.1 757.0h0M130.1 753.5h0M210.0 694.9h0M194.0 689.1h0M171.1 713.8h0M247.5 684.8h0M109.5 757.5h0M248.3 689.9h0M254.2 687.0h0M175.2 719.5h0M156.2 721.6h0M127.9 748.7h0M120.7 758.1h0M129.2 754.6h0M246.6 690.2h0M194.0 690.3h0M219.0 690.0h0M200.2 696.8h0M154.3 717.5h0M129.2 755.0h0M244.2 688.4h0M154.4 713.6h0M207.5 700.0h0M211.3 697.5h0M173.6 718.7h0M163.0 718.9h0M174.0 717.1h0M212.3 695.8h0M163.6 716.9h0M162.9 716.4h0M199.4 693.6h0M144.2 714.9h0M108.0 752.8h0M217.0 690.0h0M210.9 697.6h0M116.2 757.6h0M129.0 750.2h0M202.7 697.4h0M156.9 711.3h0M174.7 714.0h0M154.0 711.8h0M164.4 708.7h0M211.0 700.4h0M219.1 690.4h0M235.6 681.5h0M198.9 698.4h0M118.1 758.3h0M175.7 722.1h0M265.4 684.9h0M116.7 761.8h0M111.6 762.1h0M172.4 721.3h0M238.3 680.0h0M118.3 758.6h0M264.1 683.5h0M256.1 688.2h0M117.2 758.8h0M248.6 690.5h0M256.8 686.1h0M246.6 687.0h0M207.5 696.3h0M235.1 677.7h0M110.3 761.5h0M163.8 715.3h0M190.9 688.8h0M199.6 694.4h0M246.5 687.2h0M129.0 751.5h0M256.6 688.2h0M238.7 679.7h0M157.7 714.6h0M125.9 747.6h0M203.4 691.8h0M174.9 719.7h0M255.7 689.9h0M106.7 756.7h0M107.7 757.6h0M217.6 690.1h0M266.2 683.9h0M129.6 756.1h0M120.1 758.6h0" stroke="#808080" stroke-opacity="0.68" stroke-width="2.1" stroke-linecap="round" fill="none"/>
<path d="M201.5 697.6h0M144.8 715.1h0M246.9 689.7h0M145.1 717.3h0M170.6 723.0h0M148.3 719.6h0M119.0 760.9h0M107.9 760.5h0M209.1 693.4h0M191.8 691.2h0M173.3 720.5h0M266.2 683.2h0M157.0 712.6h0M144.3 717.2h0M236.1 678.0h0M174.4 718.6h0M262.6 681.9h0M236.3 680.8h0M255.5 693.5h0M254.7 691.3h0M191.0 687.0h0M248.1 686.9h0M111.1 757.6h0M156.9 715.6h0M155.3 709.2h0M165.2 722.3h0M262.1 682.0h0M116.3 759.5h0M175.6 718.4h0M209.2 693.1h0M148.0 717.4h0M217.6 691.2h0M245.2 684.7h0M130.0 750.6h0M118.4 759.7h0M192.7 686.0h0M128.8 753.1h0M191.9 686.0h0M106.8 755.4h0M236.4 677.0h0M217.4 692.5h0M190.0 691.3h0M175.0 722.1h0M191.5 686.4h0M116.4 756.4h0M246.5 687.7h0M193.5 685.5h0M119.9 762.6h0M126.2 753.6h0M143.4 714.6h0M106.7 757.8h0M118.0 755.0h0M164.2 715.4h0M218.7 700.4h0M237.8 683.3h0M266.6 685.3h0M239.7 680.5h0M164.7 716.9h0M210.3 692.1h0M263.9 682.4h0M174.2 720.1h0M163.1 715.9h0M237.6 675.0h0M263.3 683.2h0M189.6 689.8h0M162.6 716.1h0M110.1 758.3h0M267.3 682.7h0M125.6 751.6h0M253.3 689.0h0M198.0 698.6h0M164.0 714.5h0M129.4 752.0h0M116.2 756.2h0M130.2 756.7h0M172.4 719.8h0M165.6 720.5h0M217.0 694.0h0M171.4 719.5h0M207.5 698.0h0M157.6 715.0h0M165.9 708.5h0M209.5 695.0h0M256.7 685.4h0M209.9 696.5h0M208.7 696.8h0M119.2 760.0h0M148.5 715.6h0M257.1 691.0h0M262.6 677.8h0M246.6 690.1h0M264.3 676.9h0M244.1 687.2h0M126.7 752.5h0M239.6 685.7h0M125.4 754.1h0M176.1 714.1h0M248.1 690.2h0M153.1 712.6h0M240.0 682.5h0M190.6 688.3h0M238.3 678.2h0M108.6 757.8h0M118.4 757.4h0M252.9 689.5h0M202.7 695.3h0M121.0 754.6h0M236.5 680.6h0M207.7 695.8h0M173.5 721.9h0M120.4 758.9h0M211.8 692.0h0M172.0 723.1h0M210.6 697.7h0M165.5 720.9h0M200.5 695.8h0M143.9 714.7h0M119.5 755.2h0M120.1 760.4h0M127.8 753.9h0M148.1 713.9h0M124.9 752.1h0M249.1 690.8h0M111.2 759.7h0M264.0 684.9h0M110.2 758.6h0M216.5 693.5h0M217.5 693.0h0M110.1 755.7h0M163.6 720.9h0M210.5 704.6h0M244.2 686.3h0M253.6 690.3h0M211.4 696.4h0M120.0 758.3h0M210.1 695.1h0M145.4 715.5h0M153.7 713.4h0M248.7 688.1h0M126.5 749.3h0M217.6 693.1h0M255.5 693.5h0M236.3 681.7h0M248.8 684.0h0M217.3 694.2h0M163.3 713.6h0M257.3 690.8h0M126.4 756.5h0M253.0 688.6h0M143.6 716.8h0M262.1 682.4h0M118.1 756.7h0M148.3 717.9h0M189.8 686.6h0M165.3 716.9h0M154.8 711.1h0M238.1 679.7h0M238.8 679.8h0M144.2 714.7h0M190.3 692.2h0M248.7 688.0h0M257.0 693.8h0M148.6 714.2h0M120.3 756.4h0M216.3 691.1h0M210.1 697.1h0M175.8 716.8h0M247.5 683.2h0M191.5 685.2h0M193.0 688.4h0M166.4 713.9h0M202.6 694.6h0M202.4 698.4h0M263.2 682.4h0M154.1 717.9h0M217.7 691.7h0M120.5 758.2h0M129.2 751.6h0M189.6 688.2h0M164.6 718.0h0M152.4 714.7h0M170.8 716.2h0M108.3 758.4h0M220.6 697.4h0M154.2 716.3h0M146.4 717.6h0M144.8 714.7h0M199.1 692.9h0M129.9 756.0h0M255.4 693.2h0M201.2 698.9h0M161.8 713.0h0M128.4 747.9h0M108.9 760.9h0M155.2 716.4h0M193.0 688.5h0M173.4 720.2h0M189.4 695.8h0M175.0 717.6h0M208.1 696.3h0M265.0 683.8h0M147.2 716.4h0M245.9 691.8h0M211.2 695.3h0M264.2 680.7h0M128.0 751.1h0M244.0 688.2h0M253.8 687.3h0M157.6 716.4h0M119.0 758.4h0M128.2 756.8h0M116.7 756.6h0M255.2 688.5h0M144.1 718.0h0M111.5 755.3h0M161.9 713.3h0M264.4 677.1h0M117.5 761.1h0M239.6 682.4h0M155.0 713.8h0M217.0 689.7h0M245.6 687.1h0M216.7 691.2h0M255.6 683.4h0M157.5 719.4h0M238.0 679.5h0M116.2 754.3h0M255.2 689.6h0M118.4 758.8h0M209.4 697.4h0M109.6 757.5h0M249.0 684.7h0M161.9 714.9h0M191.7 689.0h0M190.5 690.3h0M143.6 717.1h0M148.0 711.5h0M154.2 715.2h0M171.3 718.9h0M219.0 695.6h0M190.2 686.3h0M127.2 754.3h0M163.9 716.5h0M146.5 719.1h0M162.5 716.7h0M125.2 750.9h0M108.2 755.4h0M256.9 687.6h0M236.2 677.5h0M119.6 756.3h0M129.0 755.0h0M192.8 694.5h0M171.2 726.0h0M217.5 693.0h0M199.3 696.1h0M207.1 695.9h0M265.7 685.6h0M202.5 697.0h0M247.9 690.0h0M220.6 692.5h0M108.9 760.0h0M201.4 694.9h0" stroke="#808080" stroke-opacity="0.68" stroke-width="2.1" stroke-linecap="round" fill="none"/>
</g>
<line x1="91.10" y1="678.10" x2="91.10" y2="771.60" stroke="#262626" stroke-width="1.8" stroke-linecap="butt"/>
<line x1="90.20" y1="770.70" x2="274.80" y2="770.70" stroke="#262626" stroke-width="1.8" stroke-linecap="butt"/>
<line x1="80.10" y1="752.00" x2="91.10" y2="752.00" stroke="#262626" stroke-width="2.2" stroke-linecap="butt"/>
<text x="73.80" y="756.50" text-anchor="end" font-size="12.5" fill="#262626">10</text>
<line x1="80.10" y1="706.70" x2="91.10" y2="706.70" stroke="#262626" stroke-width="2.2" stroke-linecap="butt"/>
<text x="73.80" y="711.20" text-anchor="end" font-size="12.5" fill="#262626">15</text>
<line x1="113.94" y1="770.70" x2="113.94" y2="781.70" stroke="#262626" stroke-width="2.2" stroke-linecap="butt"/>
<text x="113.94" y="797.10" text-anchor="middle" font-size="12.5" fill="#262626">NA</text>
<line x1="159.61" y1="770.70" x2="159.61" y2="781.70" stroke="#262626" stroke-width="2.2" stroke-linecap="butt"/>
<text x="159.61" y="797.10" text-anchor="middle" font-size="12.5" fill="#262626">PCL2</text>
<line x1="205.29" y1="770.70" x2="205.29" y2="781.70" stroke="#262626" stroke-width="2.2" stroke-linecap="butt"/>
<text x="205.29" y="797.10" text-anchor="middle" font-size="12.5" fill="#262626">PCM2</text>
<line x1="250.96" y1="770.70" x2="250.96" y2="781.70" stroke="#262626" stroke-width="2.2" stroke-linecap="butt"/>
<text x="250.96" y="797.10" text-anchor="middle" font-size="12.5" fill="#262626">PCH5</text>
<text x="182.45" y="813.00" text-anchor="middle" font-size="12.7" fill="#262626">eGFP Promoter</text>
<g transform="translate(54.30 773.70) rotate(-90)" font-size="12.5" fill="#262626"><text x="0" y="0" textLength="19.4" lengthAdjust="spacingAndGlyphs">log</text><text x="22.45" y="2.2" text-anchor="middle" font-size="9.6">2</text><text x="25.6" y="0" font-size="12.7">(eGFP) [AU]</text></g>
<text x="283.40" y="685.00" text-anchor="start" font-size="12.5" fill="#262626">mCherry</text>
<text x="283.40" y="698.70" text-anchor="start" font-size="12.5" fill="#262626">Promoter</text>
<rect x="283.30" y="708.30" width="24.90" height="8.60" fill="#b8d0bf" stroke="#000" stroke-width="1.8"/>
<text x="318.60" y="716.90" text-anchor="start" font-size="12.5" fill="#262626">NA</text>
<rect x="283.30" y="726.20" width="24.90" height="8.60" fill="#84ae92" stroke="#000" stroke-width="1.8"/>
<text x="318.60" y="734.80" text-anchor="start" font-size="12.5" fill="#262626">PCL1</text>
<rect x="283.30" y="744.10" width="24.90" height="8.60" fill="#518c64" stroke="#000" stroke-width="1.8"/>
<text x="318.60" y="752.70" text-anchor="start" font-size="12.5" fill="#262626">PCM1</text>
<rect x="283.30" y="762.00" width="24.90" height="8.60" fill="#1e6a37" stroke="#000" stroke-width="1.8"/>
<text x="318.60" y="770.60" text-anchor="start" font-size="12.5" fill="#262626">PCH4</text>
<rect x="436.30" y="761.00" width="9.13" height="9.70" fill="#b68fa3" stroke="#000" stroke-width="1.7"/>
<rect x="445.44" y="759.80" width="9.13" height="10.90" fill="#995f7c" stroke="#000" stroke-width="1.7"/>
<rect x="454.57" y="759.30" width="9.13" height="11.40" fill="#7b2f55" stroke="#000" stroke-width="1.7"/>
<rect x="472.84" y="726.00" width="9.13" height="44.70" fill="#d4c0ca" stroke="#000" stroke-width="1.7"/>
<rect x="481.98" y="732.60" width="9.13" height="38.10" fill="#b68fa3" stroke="#000" stroke-width="1.7"/>
<rect x="491.11" y="740.50" width="9.13" height="30.20" fill="#995f7c" stroke="#000" stroke-width="1.7"/>
<rect x="500.25" y="740.00" width="9.13" height="30.70" fill="#7b2f55" stroke="#000" stroke-width="1.7"/>
<rect x="518.52" y="706.00" width="9.13" height="64.70" fill="#d4c0ca" stroke="#000" stroke-width="1.7"/>
<rect x="527.65" y="706.00" width="9.13" height="64.70" fill="#b68fa3" stroke="#000" stroke-width="1.7"/>
<rect x="536.79" y="709.50" width="9.13" height="61.20" fill="#995f7c" stroke="#000" stroke-width="1.7"/>
<rect x="545.92" y="711.60" width="9.13" height="59.10" fill="#7b2f55" stroke="#000" stroke-width="1.7"/>
<rect x="564.19" y="692.90" width="9.13" height="77.80" fill="#d4c0ca" stroke="#000" stroke-width="1.7"/>
<rect x="573.33" y="702.80" width="9.13" height="67.90" fill="#b68fa3" stroke="#000" stroke-width="1.7"/>
<rect x="582.46" y="703.40" width="9.13" height="67.30" fill="#995f7c" stroke="#000" stroke-width="1.7"/>
<rect x="591.60" y="706.00" width="9.13" height="64.70" fill="#7b2f55" stroke="#000" stroke-width="1.7"/>
<defs><clipPath id="clip4"><rect x="422.60" y="679.90" width="183.70" height="92.60"/></clipPath></defs>
<g clip-path="url(#clip4)">
<path d="M449.5 758.7h0M567.6 691.9h0M521.4 706.7h0M596.9 702.3h0M530.7 704.8h0M452.5 758.9h0M567.3 690.8h0M552.7 711.1h0M541.8 708.5h0M596.8 705.3h0M477.1 724.8h0M549.0 717.8h0M477.7 725.2h0M450.6 757.7h0M442.2 760.3h0M440.7 760.6h0M458.8 762.9h0M487.0 731.8h0M459.2 757.7h0M459.7 759.6h0M504.7 740.3h0M476.2 727.7h0M553.2 708.2h0M443.5 757.8h0M477.8 728.2h0M532.2 704.0h0M533.7 705.5h0M495.1 739.6h0M586.8 704.5h0M450.1 758.4h0M588.0 702.4h0M461.7 756.7h0M442.7 761.7h0M549.5 713.3h0M534.2 704.3h0M520.5 699.7h0M596.0 704.4h0M452.7 761.7h0M488.9 728.1h0M447.9 760.4h0M594.4 709.1h0M494.9 743.8h0M502.7 737.8h0M552.5 709.6h0M595.3 706.3h0M540.4 709.3h0M580.6 703.3h0M532.7 706.9h0M486.6 728.8h0M551.6 710.8h0M447.6 756.7h0M530.3 706.0h0M543.1 707.6h0M578.7 706.2h0M541.0 711.1h0M550.1 706.2h0M524.1 701.7h0M524.1 703.4h0M504.6 733.9h0M575.2 703.0h0M552.7 716.5h0M507.5 734.9h0M539.6 709.6h0M531.0 701.9h0M534.9 703.1h0M475.3 727.9h0M504.7 735.7h0M576.7 696.6h0M540.3 704.4h0M568.2 692.2h0M541.2 712.5h0M533.8 709.2h0M496.4 739.2h0M450.5 758.4h0M568.8 689.8h0M487.3 731.8h0M531.4 706.1h0M589.1 703.4h0M450.8 756.8h0M585.5 711.9h0M533.4 707.7h0M594.4 707.8h0M439.5 761.4h0M580.4 697.2h0M443.6 762.6h0M442.9 761.3h0M567.8 693.2h0M475.6 728.7h0M458.0 759.2h0M485.9 733.5h0M584.9 702.2h0M495.2 741.8h0M439.1 761.1h0M571.0 689.9h0M456.5 761.5h0M486.0 731.5h0M587.4 705.9h0M566.5 689.6h0M494.3 741.8h0M532.7 710.1h0M595.6 705.6h0M505.1 740.6h0M443.2 760.2h0M478.1 721.8h0M584.8 695.7h0M450.9 751.3h0M542.2 706.1h0M485.2 729.2h0M495.3 739.4h0M532.2 705.0h0M441.4 760.1h0M439.4 760.4h0M542.1 709.0h0M525.1 707.8h0M552.4 712.7h0M449.0 755.3h0M567.0 690.3h0M506.3 740.3h0M443.5 760.2h0M580.2 702.3h0M594.1 710.1h0M486.8 731.3h0M576.6 704.3h0M442.1 762.9h0M477.1 722.0h0M570.1 688.1h0M531.5 708.8h0M549.9 712.9h0M505.4 732.1h0M497.6 737.6h0M584.7 703.7h0M548.0 711.3h0M567.3 690.1h0M567.0 694.6h0M541.2 707.4h0M494.5 743.2h0M487.7 730.3h0M498.4 734.9h0M552.0 714.8h0M566.3 693.0h0M579.3 696.0h0M525.2 707.0h0M576.5 702.0h0M575.9 703.6h0M540.6 710.2h0M438.5 760.8h0M525.0 698.4h0M569.3 692.1h0M596.1 705.5h0M544.1 704.0h0M484.1 731.8h0M459.4 759.2h0M493.4 743.8h0M447.7 757.8h0M580.5 699.8h0M504.4 738.1h0M589.1 703.3h0M478.3 727.0h0M449.5 761.5h0M474.9 722.7h0M543.2 708.8h0M532.5 702.9h0M595.4 704.4h0M448.8 756.6h0M458.4 760.0h0M476.4 724.5h0M504.5 740.3h0M524.6 700.9h0M549.7 710.4h0M542.6 708.4h0M525.7 703.2h0M578.1 702.0h0M484.8 728.3h0M587.9 698.4h0M479.5 729.0h0M585.1 703.3h0M542.2 715.1h0M597.0 705.0h0M485.6 734.8h0M567.0 691.7h0M506.4 740.6h0M493.7 738.5h0M579.7 700.7h0M485.9 729.8h0M460.0 764.7h0M460.1 759.5h0M531.3 706.0h0M525.4 706.3h0M551.1 709.0h0M447.9 753.0h0M550.1 710.2h0M595.2 708.1h0M440.0 761.0h0M478.6 723.2h0M458.3 757.3h0M479.6 724.2h0M524.0 705.9h0M521.4 703.8h0M542.1 708.3h0M487.0 732.3h0M568.9 693.8h0M486.4 732.6h0M505.4 740.6h0M452.3 752.0h0M477.3 723.6h0M493.8 739.3h0M549.0 709.6h0M586.9 699.4h0M523.5 701.7h0M551.8 711.1h0M461.0 755.3h0M530.5 706.2h0M568.3 693.6h0M497.7 738.6h0M525.4 704.2h0M542.5 708.2h0M461.4 758.2h0M523.4 704.4h0M475.2 725.5h0M461.2 759.5h0M503.9 736.6h0M539.0 707.9h0M494.7 737.5h0M593.9 705.4h0M576.1 697.9h0M588.8 703.2h0M439.7 757.2h0M494.4 740.8h0M475.4 724.7h0M488.3 732.5h0M488.5 732.6h0M584.4 702.2h0M487.2 732.8h0M502.6 742.1h0M543.1 707.5h0M539.0 707.5h0M439.5 760.3h0M540.5 709.2h0M487.4 735.6h0M487.3 731.6h0M538.9 708.6h0M532.4 703.4h0M523.9 703.3h0M475.2 731.9h0M543.3 710.5h0M533.5 702.6h0M578.3 702.1h0M569.1 695.4h0M524.5 704.1h0M587.1 702.9h0M580.3 698.0h0M475.2 723.5h0M461.6 760.9h0M540.4 706.9h0M578.2 701.4h0M505.4 737.2h0M568.3 689.6h0M521.6 703.5h0M506.2 738.8h0M596.1 702.5h0M461.3 754.3h0M484.7 732.6h0M549.0 709.8h0" stroke="#808080" stroke-opacity="0.68" stroke-width="2.1" stroke-linecap="round" fill="none"/>
<path d="M507.5 737.3h0M503.0 737.4h0M476.0 722.6h0M571.3 689.7h0M478.7 726.3h0M542.7 706.9h0M458.6 756.6h0M530.5 703.1h0M530.8 707.0h0M549.8 711.1h0M584.9 710.3h0M551.6 712.9h0M579.0 700.9h0M588.5 708.1h0M443.1 759.4h0M521.7 706.4h0M502.5 736.3h0M578.7 702.1h0M595.5 705.0h0M506.4 736.2h0M595.3 706.2h0M530.5 703.6h0M496.6 739.7h0M505.6 739.2h0M521.9 705.5h0M585.6 707.2h0M443.0 757.4h0M457.6 753.4h0M530.2 703.1h0M550.0 709.4h0M438.4 759.5h0M507.0 741.1h0M533.9 705.0h0M488.5 730.1h0M443.4 761.2h0M522.8 705.1h0M443.2 760.6h0M504.2 741.6h0M477.5 725.0h0M460.2 762.4h0M529.8 705.1h0M484.7 733.1h0M569.2 692.2h0M585.6 696.8h0M530.5 704.8h0M483.8 725.5h0M525.3 708.0h0M497.4 742.5h0M552.5 709.7h0M497.3 734.8h0M443.5 759.5h0M523.2 706.5h0M459.1 760.0h0M458.7 757.7h0M577.7 705.2h0M568.1 688.3h0M479.4 723.0h0M460.7 761.5h0M452.1 756.2h0M452.2 763.8h0M596.9 703.5h0M596.2 699.1h0M477.6 722.3h0M585.2 702.8h0M504.7 732.9h0M578.5 700.6h0M598.0 703.7h0M538.8 712.2h0M451.6 759.1h0M548.9 706.3h0M506.3 741.2h0M579.1 702.6h0M443.0 762.3h0M569.3 696.0h0M457.3 761.6h0M595.0 707.1h0M507.4 737.4h0M522.3 704.2h0M543.5 708.6h0M597.7 708.0h0M598.3 706.4h0M566.5 691.7h0M551.7 711.3h0M577.6 703.6h0M475.0 727.3h0M488.1 732.1h0M594.4 701.6h0M541.1 706.4h0M549.0 711.5h0M475.3 728.4h0M598.5 706.5h0M586.0 701.5h0M450.7 762.9h0M577.2 700.2h0M598.4 703.3h0M588.8 699.6h0M571.0 690.3h0M566.4 690.4h0M595.0 706.8h0M534.0 708.6h0M461.0 758.0h0M479.7 726.1h0M586.0 703.8h0M475.8 724.3h0M524.0 704.5h0M584.7 702.8h0M477.3 725.8h0M495.4 743.1h0M505.8 738.5h0M457.1 763.8h0M532.2 705.7h0M458.8 757.4h0M496.2 742.5h0M520.5 700.7h0M459.1 754.3h0M524.6 700.2h0M566.3 690.0h0M543.0 715.6h0M530.4 702.0h0M551.4 710.2h0M478.3 716.4h0M593.5 705.6h0M551.7 708.1h0M442.7 764.9h0M450.6 758.4h0M478.8 727.1h0M529.9 705.8h0M447.9 760.8h0M496.3 741.8h0M459.5 759.9h0M458.7 754.8h0M567.3 686.1h0M503.7 739.5h0M489.1 729.6h0M452.7 762.6h0M477.0 725.3h0M525.3 702.7h0M443.0 758.3h0M523.4 706.0h0M522.4 706.8h0M569.2 690.8h0M477.7 728.1h0M532.9 705.8h0M588.9 702.3h0M442.9 761.4h0M494.9 737.9h0M505.9 742.7h0M569.8 692.0h0M503.1 733.3h0M566.2 693.5h0M460.5 761.9h0M598.1 707.7h0M549.5 705.4h0M544.0 713.4h0M459.0 755.4h0M487.6 732.5h0M549.4 709.3h0M488.5 733.7h0M493.3 744.6h0M487.8 732.1h0M588.8 701.9h0M549.8 709.1h0M576.9 700.6h0M483.8 732.0h0M584.8 699.5h0M551.6 709.9h0M570.9 691.6h0M539.6 703.0h0M488.6 729.1h0M483.9 730.1h0M458.2 755.3h0M450.0 760.2h0M538.8 705.5h0M534.1 702.7h0M478.8 719.8h0M575.5 700.1h0M596.5 706.0h0M493.5 741.2h0M578.0 701.1h0M579.2 702.6h0M540.0 709.0h0M541.9 706.9h0M448.1 757.2h0M534.6 703.4h0M458.0 757.8h0M542.1 706.7h0M598.7 705.1h0M593.9 707.5h0M539.4 711.0h0M579.8 700.0h0M450.4 759.8h0M480.0 723.1h0M451.7 758.5h0M458.1 755.3h0M479.7 722.1h0M458.8 758.7h0M566.7 687.0h0M477.1 724.4h0M542.6 711.5h0M493.1 739.4h0M441.8 762.5h0M542.9 707.9h0M566.4 694.0h0M457.6 758.3h0M586.6 703.0h0M448.5 755.5h0M575.3 700.5h0M525.6 706.8h0M493.4 736.1h0M440.8 761.1h0M487.6 731.4h0M493.3 736.4h0M456.6 758.6h0M525.8 704.5h0M493.6 737.4h0M550.6 710.2h0M503.4 742.0h0M550.4 712.5h0M495.5 738.5h0M443.6 758.7h0M540.5 708.5h0M487.2 730.8h0M520.9 708.0h0M541.1 707.7h0M478.9 725.3h0M568.4 692.3h0M452.0 757.6h0M448.9 752.6h0M442.2 764.3h0M521.9 703.3h0M449.0 756.7h0M550.1 704.6h0M493.8 742.2h0M550.5 708.7h0M497.5 738.6h0M485.2 732.6h0M487.5 733.8h0M443.1 770.1h0M458.2 759.5h0M578.0 698.6h0M438.4 760.7h0M504.2 738.0h0M542.5 709.9h0M503.5 737.5h0M575.5 702.0h0M542.4 711.9h0M578.6 702.4h0M543.6 712.8h0M588.8 699.9h0M458.3 758.8h0M541.4 705.5h0M532.0 706.1h0M479.8 724.4h0M596.0 704.3h0M534.2 702.5h0M552.9 710.4h0M532.0 707.8h0M520.8 707.7h0M451.8 761.7h0M479.9 732.7h0M569.8 691.0h0M584.5 702.2h0M496.0 736.7h0" stroke="#808080" stroke-opacity="0.68" stroke-width="2.1" stroke-linecap="round" fill="none"/>
<path d="M488.6 732.2h0M448.1 761.2h0M448.2 761.8h0M597.5 704.5h0M550.9 711.0h0M447.6 761.3h0M575.7 701.2h0M443.1 763.2h0M440.7 762.7h0M570.6 690.7h0M584.8 705.9h0M534.0 706.1h0M531.8 704.0h0M529.9 706.1h0M595.5 706.7h0M549.6 711.2h0M496.7 746.8h0M504.4 740.2h0M439.4 757.0h0M487.1 733.6h0M584.4 704.9h0M551.8 709.9h0M504.2 749.0h0M441.1 759.2h0M579.3 706.3h0M485.7 728.5h0M493.5 739.0h0M569.7 690.7h0M538.7 705.0h0M478.7 724.9h0M587.0 700.6h0M586.4 701.3h0M447.4 760.8h0M524.6 705.6h0M523.3 705.8h0M495.7 740.8h0M460.5 755.4h0M505.0 737.1h0M566.1 693.3h0M502.1 737.2h0M597.6 702.7h0M443.4 760.2h0M448.2 763.9h0M484.8 726.2h0M442.5 758.9h0M596.7 700.6h0M487.8 730.9h0M531.4 704.0h0M576.5 701.7h0M478.1 723.5h0M548.3 710.3h0M588.3 702.5h0M495.8 739.7h0M580.1 704.5h0M442.6 757.0h0M487.7 730.5h0M480.1 729.4h0M438.2 760.4h0M548.2 713.6h0M522.1 709.4h0M451.7 760.5h0M597.4 703.4h0M569.5 690.6h0M595.9 699.0h0M493.7 741.0h0M540.6 712.1h0M474.8 726.0h0M452.1 755.7h0M506.5 728.6h0M543.3 707.3h0M485.8 729.7h0M524.8 705.1h0M535.0 704.2h0M493.8 725.5h0M597.7 704.2h0M570.1 691.9h0M476.8 730.7h0M579.5 700.6h0M533.7 706.6h0M483.8 727.4h0M587.4 704.1h0M520.5 704.7h0M457.8 760.0h0M533.9 705.0h0M578.2 698.5h0M521.9 707.7h0M451.0 755.7h0M457.1 759.1h0M578.0 706.8h0M576.5 700.9h0M441.1 758.2h0M460.5 757.3h0M522.2 704.6h0M570.4 691.1h0M576.6 700.8h0M586.6 708.4h0M540.0 707.9h0M497.4 737.8h0M457.2 759.2h0M542.1 708.7h0M459.8 756.0h0M595.1 704.4h0M449.6 757.1h0M523.0 703.0h0M523.1 705.9h0M552.3 708.6h0M502.4 738.9h0M503.4 736.3h0M450.0 754.2h0M452.0 760.9h0M496.1 742.2h0M578.2 702.7h0M525.5 707.2h0M477.0 726.8h0M541.4 710.0h0M544.0 709.5h0M548.1 707.1h0M595.9 709.2h0M571.3 691.1h0M447.8 758.3h0M548.8 711.0h0M532.7 706.0h0M578.4 698.5h0M547.8 711.0h0M448.9 759.5h0M580.5 705.8h0M457.4 758.8h0M443.4 764.9h0M525.3 706.3h0M477.8 728.7h0M506.7 734.9h0M487.4 737.1h0M550.5 710.5h0M476.8 723.8h0M533.2 705.9h0M543.1 707.1h0M589.3 702.5h0M588.1 701.2h0M521.1 704.7h0M506.0 739.3h0M523.5 704.8h0M440.9 758.0h0M551.9 710.5h0M459.4 755.9h0M585.0 703.9h0M485.6 726.9h0M532.4 708.0h0M521.4 704.8h0M576.9 698.9h0M441.7 759.4h0M488.3 732.9h0M539.7 707.9h0M479.0 725.9h0M525.5 705.0h0M530.5 704.5h0M543.0 708.3h0M484.8 733.5h0M524.7 706.7h0M570.4 691.0h0M449.1 759.2h0M497.2 741.0h0M486.7 733.4h0M596.0 707.0h0M531.5 704.3h0M530.9 703.0h0M589.2 703.7h0M552.7 708.6h0M442.5 758.1h0M495.3 741.8h0M458.2 757.6h0M585.6 704.1h0M588.2 700.2h0M566.3 688.5h0M568.4 693.1h0M593.6 706.6h0M495.1 738.7h0M498.1 737.0h0M450.7 754.6h0M567.6 690.7h0M576.9 701.9h0M552.5 710.8h0M460.4 757.0h0M449.9 760.4h0M597.9 707.1h0M587.5 705.0h0M457.7 758.2h0M439.5 762.2h0M539.2 710.2h0M567.7 688.3h0M448.9 757.8h0M506.4 742.6h0M449.9 759.1h0M539.8 710.2h0M458.1 758.3h0M439.5 761.7h0M504.8 741.6h0M585.0 705.5h0M475.1 727.0h0M575.8 703.4h0M579.6 701.9h0M525.0 706.9h0M448.3 759.0h0M523.0 710.1h0M503.2 740.8h0M598.7 704.9h0M489.2 736.1h0M485.3 731.4h0M486.3 732.4h0M576.1 703.2h0M532.6 703.8h0M529.8 708.4h0M549.6 708.4h0M552.7 711.5h0M502.5 739.8h0M506.4 738.0h0M542.3 709.3h0M566.3 688.3h0M577.7 699.4h0M587.0 706.5h0M584.4 700.5h0M580.4 702.8h0M451.5 759.9h0M451.7 760.0h0M497.0 739.6h0M475.0 725.6h0M498.0 739.7h0M522.5 705.4h0M440.1 758.8h0M585.6 705.1h0M575.5 699.9h0M543.6 710.3h0M441.6 760.8h0M479.8 723.5h0M496.1 738.5h0M575.4 698.9h0M549.1 712.2h0M598.6 702.8h0M506.5 737.0h0M476.3 726.8h0M597.7 703.2h0M506.4 738.6h0M502.2 737.6h0M441.6 760.5h0M525.3 706.1h0M541.6 707.6h0M496.2 739.7h0M441.4 761.0h0M578.2 701.8h0M547.8 709.4h0M549.6 711.6h0M569.7 692.3h0M447.8 759.7h0M484.6 733.9h0M439.7 758.0h0M502.6 735.5h0M505.2 739.5h0M532.3 701.5h0M498.0 737.5h0M534.3 706.3h0M542.3 705.1h0M524.2 701.6h0M567.2 689.2h0" stroke="#808080" stroke-opacity="0.68" stroke-width="2.1" stroke-linecap="round" fill="none"/>
<path d="M588.3 702.6h0M534.4 704.7h0M451.0 760.5h0M569.6 692.1h0M440.7 764.0h0M541.7 713.4h0M451.5 758.2h0M460.7 760.3h0M497.3 735.9h0M539.6 708.6h0M448.6 756.5h0M503.3 736.2h0M532.8 708.6h0M522.4 707.4h0M533.7 705.1h0M493.8 738.5h0M542.4 705.8h0M594.6 705.7h0M484.5 732.2h0M495.0 741.7h0M458.3 759.6h0M578.4 705.4h0M589.6 699.7h0M507.5 737.7h0M503.0 739.1h0M502.4 739.2h0M495.4 744.7h0M596.3 708.6h0M584.9 703.5h0M595.6 705.6h0M571.4 689.3h0M485.4 727.8h0M542.5 705.2h0M479.3 725.0h0M505.2 741.6h0M524.3 704.2h0M503.2 738.2h0M476.1 726.6h0M550.3 709.3h0M443.2 760.1h0M598.1 704.7h0M570.6 698.1h0M477.5 722.3h0M534.8 707.7h0M496.5 737.7h0M596.0 706.3h0M578.3 699.6h0M457.4 758.8h0M541.8 706.8h0M474.7 725.2h0M476.2 721.5h0M525.8 706.1h0M552.8 714.9h0M507.3 736.7h0M522.0 708.8h0M576.9 699.9h0M594.3 705.5h0M525.6 701.7h0M552.8 712.1h0M495.2 738.7h0M587.9 702.9h0M585.7 699.6h0M548.3 710.0h0M595.6 706.5h0M457.4 755.9h0M585.4 698.8h0M523.4 707.8h0M587.6 705.2h0M520.9 704.9h0M504.2 737.5h0M576.7 701.7h0M549.9 711.7h0M569.0 696.4h0M569.1 693.8h0M548.8 711.8h0M504.1 740.0h0M488.3 730.3h0M587.1 700.8h0M488.8 730.0h0M532.5 707.6h0M575.4 699.1h0M584.8 703.2h0M551.8 712.4h0M486.5 731.1h0M576.9 701.8h0M461.8 761.3h0M532.7 706.5h0M460.3 758.2h0M485.8 732.6h0M441.1 758.4h0M594.7 704.7h0M447.6 770.2h0M589.3 703.0h0M588.5 704.9h0M442.6 761.6h0M586.9 702.7h0M567.3 693.0h0M496.9 739.9h0M577.2 699.6h0M532.8 706.0h0M539.3 704.5h0M504.5 734.3h0M449.4 763.2h0M480.1 726.8h0M438.4 760.4h0M486.2 731.9h0M460.4 756.5h0M478.0 724.9h0M504.2 739.5h0M571.0 692.9h0M530.8 708.7h0M567.5 694.5h0M595.5 704.4h0M567.1 691.4h0M495.8 737.7h0M479.5 721.4h0M584.3 702.6h0M452.6 761.3h0M497.8 740.9h0M442.9 759.1h0M502.9 739.2h0M532.7 704.2h0M475.8 724.4h0M476.3 725.1h0M502.8 738.8h0M569.6 691.0h0M570.0 691.8h0M522.8 704.1h0M439.9 763.8h0M493.7 739.3h0M571.0 689.9h0M449.6 761.0h0M502.1 742.8h0M496.5 746.3h0M439.1 763.3h0M523.9 704.4h0M596.0 705.4h0M496.5 740.6h0M487.3 730.9h0M440.6 755.9h0M440.4 753.5h0M530.6 707.4h0M597.9 705.9h0M551.9 709.3h0M449.8 769.2h0M541.7 706.4h0M586.0 697.0h0M524.6 704.8h0M587.3 700.4h0M584.6 702.2h0M496.3 740.8h0M439.4 759.0h0M484.4 732.8h0M525.2 705.0h0M539.0 705.9h0M461.5 758.8h0M449.1 763.5h0M595.7 705.1h0M570.0 691.1h0M451.0 756.9h0M495.0 738.6h0M459.4 762.1h0M577.0 699.8h0M461.6 759.1h0M584.3 699.6h0M503.1 741.2h0M568.3 690.3h0M443.1 762.5h0M552.5 709.6h0M595.2 709.6h0M548.5 709.1h0M579.3 703.4h0M579.2 701.4h0M534.8 704.4h0M577.4 702.9h0M589.0 705.3h0M479.3 726.6h0M534.7 702.5h0M566.0 691.3h0M595.8 705.3h0M497.7 738.7h0M522.9 705.8h0M474.7 727.7h0M457.4 760.2h0M598.1 705.6h0M576.8 702.0h0M530.3 704.6h0M489.1 726.5h0M498.0 736.0h0M461.0 761.1h0M457.0 756.6h0M449.7 755.8h0M570.4 688.4h0M494.9 736.9h0M448.2 762.7h0M552.7 714.4h0M577.4 703.6h0M525.1 699.2h0M569.1 693.0h0M569.8 688.8h0M578.9 702.3h0M531.1 707.3h0M503.2 741.1h0M438.5 760.3h0M549.2 708.9h0M451.2 757.6h0M597.2 709.7h0M549.2 701.6h0M594.5 710.6h0M597.1 707.7h0M531.6 706.5h0M587.4 703.2h0M497.0 740.2h0M451.2 757.6h0M450.4 757.6h0M550.6 710.9h0M596.3 702.6h0M495.3 746.7h0M543.6 706.4h0M595.7 707.7h0M597.7 706.1h0M458.0 760.3h0M456.8 759.8h0M488.7 731.9h0M503.5 742.7h0M589.3 704.4h0M567.6 689.5h0M486.6 734.6h0M594.8 703.3h0M438.8 760.3h0M478.5 723.9h0M479.5 721.3h0M495.8 743.2h0M459.7 755.4h0M485.8 734.6h0M488.3 726.7h0M567.3 689.6h0M549.5 709.0h0M459.7 758.6h0M459.0 757.2h0M579.6 702.4h0M475.1 729.9h0M442.3 761.6h0M542.6 708.0h0M451.1 755.2h0M534.5 704.5h0M485.9 733.7h0M487.5 731.0h0M442.9 756.4h0M593.6 703.9h0M460.4 758.0h0M485.0 729.0h0M585.9 702.3h0M531.6 704.5h0M479.0 723.9h0M548.1 706.0h0M507.4 734.9h0M586.4 700.3h0M524.1 704.2h0M477.7 725.4h0M493.3 741.7h0M440.9 757.1h0" stroke="#808080" stroke-opacity="0.68" stroke-width="2.1" stroke-linecap="round" fill="none"/>
</g>
<line x1="422.60" y1="678.10" x2="422.60" y2="771.60" stroke="#262626" stroke-width="1.8" stroke-linecap="butt"/>
<line x1="421.70" y1="770.70" x2="606.30" y2="770.70" stroke="#262626" stroke-width="1.8" stroke-linecap="butt"/>
<line x1="411.60" y1="761.60" x2="422.60" y2="761.60" stroke="#262626" stroke-width="2.2" stroke-linecap="butt"/>
<text x="405.30" y="766.10" text-anchor="end" font-size="12.5" fill="#262626">5</text>
<line x1="411.60" y1="715.70" x2="422.60" y2="715.70" stroke="#262626" stroke-width="2.2" stroke-linecap="butt"/>
<text x="405.30" y="720.20" text-anchor="end" font-size="12.5" fill="#262626">10</text>
<line x1="445.44" y1="770.70" x2="445.44" y2="781.70" stroke="#262626" stroke-width="2.2" stroke-linecap="butt"/>
<text x="445.44" y="797.10" text-anchor="middle" font-size="12.5" fill="#262626">NA</text>
<line x1="491.11" y1="770.70" x2="491.11" y2="781.70" stroke="#262626" stroke-width="2.2" stroke-linecap="butt"/>
<text x="491.11" y="797.10" text-anchor="middle" font-size="12.5" fill="#262626">PCL1</text>
<line x1="536.79" y1="770.70" x2="536.79" y2="781.70" stroke="#262626" stroke-width="2.2" stroke-linecap="butt"/>
<text x="536.79" y="797.10" text-anchor="middle" font-size="12.5" fill="#262626">PCM1</text>
<line x1="582.46" y1="770.70" x2="582.46" y2="781.70" stroke="#262626" stroke-width="2.2" stroke-linecap="butt"/>
<text x="582.46" y="797.10" text-anchor="middle" font-size="12.5" fill="#262626">PCH4</text>
<text x="513.95" y="813.00" text-anchor="middle" font-size="12.7" fill="#262626">mCherry Promoter</text>
<g transform="translate(386.30 781.10) rotate(-90)" font-size="12.5" fill="#262626"><text x="0" y="0" textLength="19.4" lengthAdjust="spacingAndGlyphs">log</text><text x="22.45" y="2.2" text-anchor="middle" font-size="9.6">2</text><text x="25.6" y="0" font-size="12.7">(mCherry) [AU]</text></g>
<text x="614.90" y="685.00" text-anchor="start" font-size="12.5" fill="#262626">eGFP</text>
<text x="614.90" y="698.70" text-anchor="start" font-size="12.5" fill="#262626">Promoter</text>
<rect x="614.80" y="708.30" width="24.90" height="8.60" fill="#d4c0ca" stroke="#000" stroke-width="1.8"/>
<text x="650.10" y="716.90" text-anchor="start" font-size="12.5" fill="#262626">NA</text>
<rect x="614.80" y="726.20" width="24.90" height="8.60" fill="#b68fa3" stroke="#000" stroke-width="1.8"/>
<text x="650.10" y="734.80" text-anchor="start" font-size="12.5" fill="#262626">PCL2</text>
<rect x="614.80" y="744.10" width="24.90" height="8.60" fill="#995f7c" stroke="#000" stroke-width="1.8"/>
<text x="650.10" y="752.70" text-anchor="start" font-size="12.5" fill="#262626">PCM2</text>
<rect x="614.80" y="762.00" width="24.90" height="8.60" fill="#7b2f55" stroke="#000" stroke-width="1.8"/>
<text x="650.10" y="770.60" text-anchor="start" font-size="12.5" fill="#262626">PCH5</text>
</svg></body></html>
